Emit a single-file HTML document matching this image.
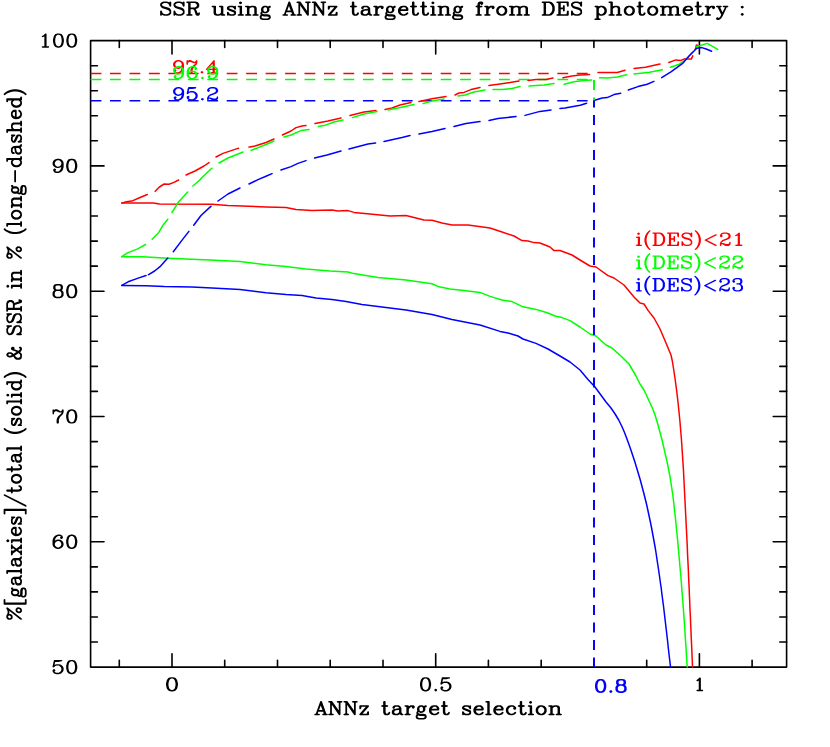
<!DOCTYPE html>
<html><head><meta charset="utf-8"><title>SSR using ANNz targetting</title>
<style>html,body{margin:0;padding:0;background:#fff;}svg{display:block;}</style>
</head><body>
<svg width="830" height="747" viewBox="0 0 830 747">
<rect width="830" height="747" fill="#fff"/>
<g fill="none" stroke="#000" stroke-width="1.6" stroke-linejoin="round" stroke-linecap="round">
<rect x="90.6" y="40.6" width="696" height="626.5"/>
<path d="M119.3 667.1 v-6.8 M119.3 40.6 v6.8 M172 667.1 v-13.4 M172 40.6 v13.4 M224.7 667.1 v-6.8 M224.7 40.6 v6.8 M277.5 667.1 v-6.8 M277.5 40.6 v6.8 M330.2 667.1 v-6.8 M330.2 40.6 v6.8 M383 667.1 v-6.8 M383 40.6 v6.8 M435.7 667.1 v-13.4 M435.7 40.6 v13.4 M488.4 667.1 v-6.8 M488.4 40.6 v6.8 M541.2 667.1 v-6.8 M541.2 40.6 v6.8 M593.9 667.1 v-6.8 M593.9 40.6 v6.8 M646.7 667.1 v-6.8 M646.7 40.6 v6.8 M699.4 667.1 v-13.4 M699.4 40.6 v13.4 M752.1 667.1 v-6.8 M752.1 40.6 v6.8 M90.6 642 h6.8 M786.6 642 h-6.8 M90.6 617 h6.8 M786.6 617 h-6.8 M90.6 591.9 h6.8 M786.6 591.9 h-6.8 M90.6 566.9 h6.8 M786.6 566.9 h-6.8 M90.6 541.8 h13.4 M786.6 541.8 h-13.4 M90.6 516.7 h6.8 M786.6 516.7 h-6.8 M90.6 491.7 h6.8 M786.6 491.7 h-6.8 M90.6 466.6 h6.8 M786.6 466.6 h-6.8 M90.6 441.6 h6.8 M786.6 441.6 h-6.8 M90.6 416.5 h13.4 M786.6 416.5 h-13.4 M90.6 391.4 h6.8 M786.6 391.4 h-6.8 M90.6 366.4 h6.8 M786.6 366.4 h-6.8 M90.6 341.3 h6.8 M786.6 341.3 h-6.8 M90.6 316.3 h6.8 M786.6 316.3 h-6.8 M90.6 291.2 h13.4 M786.6 291.2 h-13.4 M90.6 266.1 h6.8 M786.6 266.1 h-6.8 M90.6 241.1 h6.8 M786.6 241.1 h-6.8 M90.6 216 h6.8 M786.6 216 h-6.8 M90.6 191 h6.8 M786.6 191 h-6.8 M90.6 165.9 h13.4 M786.6 165.9 h-13.4 M90.6 140.8 h6.8 M786.6 140.8 h-6.8 M90.6 115.8 h6.8 M786.6 115.8 h-6.8 M90.6 90.7 h6.8 M786.6 90.7 h-6.8 M90.6 65.7 h6.8 M786.6 65.7 h-6.8"/>
</g>
<path d="M292 -133L274 -127L270 -124L258 -106L251 -74L251 -52L258 -20L270 -2L274 1L292 7L293 6L294 7L306 7L307 6L308 7L326 1L330 -2L342 -20L349 -52L349 -74L342 -106L330 -124L326 -127L308 -133L307 -132L306 -133L294 -133L293 -132ZM295 -119L305 -119L313 -115L319 -109L324 -99L329 -74L329 -52L324 -27L319 -17L313 -11L305 -7L295 -7L287 -11L281 -17L276 -27L271 -52L271 -74L276 -99L281 -109L287 -115ZM172 -133L154 -127L150 -124L138 -106L131 -74L131 -52L138 -20L150 -2L154 1L172 7L173 6L174 7L186 7L187 6L188 7L206 1L210 -2L222 -20L229 -52L229 -74L222 -106L210 -124L206 -127L188 -133L187 -132L186 -133L174 -133L173 -132ZM175 -119L185 -119L193 -115L199 -109L204 -99L209 -74L209 -52L204 -27L199 -17L193 -11L185 -7L175 -7L167 -11L161 -17L156 -27L151 -52L151 -74L156 -99L161 -109L167 -115ZM66 -133L61 -131L43 -113L34 -109L30 -105L29 -102L30 -99L36 -95L52 -103L53 -102L53 -8L33 -6L29 0L30 3L36 7L90 7L93 6L97 0L93 -6L73 -8L73 -126L72 -129Z" transform="translate(38.48 46.98) scale(0.11090 0.10213)" fill="#000"/>
<path d="M172 -133L154 -127L150 -124L138 -106L131 -74L131 -52L138 -20L150 -2L154 1L172 7L173 6L174 7L186 7L187 6L188 7L206 1L210 -2L222 -20L229 -52L229 -74L222 -106L210 -124L206 -127L188 -133L187 -132L186 -133L174 -133L173 -132ZM175 -119L185 -119L193 -115L199 -109L204 -99L209 -74L209 -52L204 -27L199 -17L193 -11L185 -7L175 -7L167 -11L161 -17L156 -27L151 -52L151 -74L156 -99L161 -109L167 -115ZM68 -133L67 -132L66 -133L54 -133L53 -132L52 -133L31 -125L17 -110L11 -92L12 -91L11 -82L17 -64L34 -47L52 -41L53 -42L62 -41L80 -47L87 -53L88 -52L84 -34L79 -23L67 -11L59 -7L43 -7L35 -12L41 -19L43 -24L41 -29L35 -35L30 -37L27 -36L19 -29L17 -24L17 -18L23 -4L28 1L42 7L60 7L61 6L62 7L83 -1L97 -16L103 -28L109 -51L108 -53L109 -54L109 -90L108 -91L109 -92L103 -110L86 -127ZM55 -119L65 -119L73 -115L84 -104L89 -90L89 -84L84 -70L74 -60L60 -55L55 -55L47 -59L36 -70L31 -84L31 -90L36 -104L47 -115Z" transform="translate(51.25 172.28) scale(0.11370 0.10213)" fill="#000"/>
<path d="M172 -133L154 -127L150 -124L138 -106L131 -74L131 -52L138 -20L150 -2L154 1L172 7L173 6L174 7L186 7L187 6L188 7L206 1L210 -2L222 -20L229 -52L229 -74L222 -106L210 -124L206 -127L188 -133L187 -132L186 -133L174 -133L173 -132ZM175 -119L185 -119L193 -115L199 -109L204 -99L209 -74L209 -52L204 -27L199 -17L193 -11L185 -7L175 -7L167 -11L161 -17L156 -27L151 -52L151 -74L156 -99L161 -109L167 -115ZM46 -133L28 -127L23 -122L18 -112L17 -90L23 -76L27 -72L19 -65L12 -52L11 -24L19 -7L28 1L46 7L47 6L48 7L72 7L73 6L74 7L95 -1L101 -7L108 -20L109 -24L108 -52L101 -65L93 -72L97 -76L102 -86L103 -108L97 -122L92 -127L74 -133L73 -132L72 -133L48 -133L47 -132ZM49 -65L71 -65L79 -61L85 -55L89 -47L89 -25L85 -17L79 -11L71 -7L49 -7L41 -11L35 -17L31 -25L31 -47L35 -55L41 -61ZM40 -113L49 -119L71 -119L77 -116L83 -107L83 -91L80 -85L71 -79L49 -79L43 -82L37 -91L37 -107Z" transform="translate(51.25 297.58) scale(0.11370 0.10213)" fill="#000"/>
<path d="M172 -133L154 -127L150 -124L138 -106L131 -74L131 -52L138 -20L150 -2L154 1L172 7L173 6L174 7L186 7L187 6L188 7L206 1L210 -2L222 -20L229 -52L229 -74L222 -106L210 -124L206 -127L188 -133L187 -132L186 -133L174 -133L173 -132ZM175 -119L185 -119L193 -115L199 -109L204 -99L209 -74L209 -52L204 -27L199 -17L193 -11L185 -7L175 -7L167 -11L161 -17L156 -27L151 -52L151 -74L156 -99L161 -109L167 -115ZM102 -133L99 -132L95 -128L91 -119L87 -115L80 -115L56 -130L48 -133L36 -133L31 -131L26 -126L21 -132L18 -133L12 -129L11 -126L11 -90L15 -84L18 -83L24 -87L25 -101L28 -107L37 -113L47 -113L73 -102L78 -101L90 -101L91 -102L92 -101L90 -94L61 -65L53 -50L47 -32L48 -31L47 -30L47 0L51 6L60 7L66 3L67 0L67 -30L72 -45L78 -57L103 -88L109 -106L108 -107L109 -108L109 -126L108 -129Z" transform="translate(51.25 422.88) scale(0.11370 0.10213)" fill="#000"/>
<path d="M172 -133L154 -127L150 -124L138 -106L131 -74L131 -52L138 -20L150 -2L154 1L172 7L173 6L174 7L186 7L187 6L188 7L206 1L210 -2L222 -20L229 -52L229 -74L222 -106L210 -124L206 -127L188 -133L187 -132L186 -133L174 -133L173 -132ZM175 -119L185 -119L193 -115L199 -109L204 -99L209 -74L209 -52L204 -27L199 -17L193 -11L185 -7L175 -7L167 -11L161 -17L156 -27L151 -52L151 -74L156 -99L161 -109L167 -115ZM78 -133L60 -133L59 -132L58 -133L37 -125L23 -110L17 -98L11 -75L12 -73L11 -72L11 -36L12 -35L11 -34L17 -16L34 1L52 7L53 6L54 7L66 7L67 6L68 7L89 -1L103 -16L109 -34L108 -35L109 -44L103 -62L86 -79L68 -85L67 -84L58 -85L40 -79L33 -73L32 -74L36 -92L41 -103L53 -115L61 -119L77 -119L85 -114L79 -107L77 -102L79 -97L85 -91L90 -89L93 -90L101 -97L103 -102L103 -108L97 -122L92 -127ZM60 -71L65 -71L73 -67L84 -56L89 -42L89 -36L84 -22L73 -11L65 -7L55 -7L47 -11L36 -22L31 -36L31 -42L36 -56L46 -66Z" transform="translate(51.25 548.18) scale(0.11370 0.10213)" fill="#000"/>
<path d="M172 -133L154 -127L150 -124L138 -106L131 -74L131 -52L138 -20L150 -2L154 1L172 7L173 6L174 7L186 7L187 6L188 7L206 1L210 -2L222 -20L229 -52L229 -74L222 -106L210 -124L206 -127L188 -133L187 -132L186 -133L174 -133L173 -132ZM175 -119L185 -119L193 -115L199 -109L204 -99L209 -74L209 -52L204 -27L199 -17L193 -11L185 -7L175 -7L167 -11L161 -17L156 -27L151 -52L151 -74L156 -99L161 -109L167 -115ZM27 -132L24 -129L22 -123L11 -68L12 -63L18 -59L23 -61L36 -73L48 -77L65 -77L73 -73L84 -62L89 -48L89 -36L84 -22L73 -11L65 -7L48 -7L34 -12L29 -17L29 -19L35 -25L37 -30L35 -35L29 -41L24 -43L19 -41L13 -35L11 -30L12 -20L19 -7L25 -1L46 7L47 6L48 7L66 7L67 6L68 7L86 1L103 -16L109 -34L108 -35L109 -36L109 -48L108 -49L109 -50L103 -68L86 -85L68 -91L67 -90L66 -91L48 -91L47 -90L46 -91L30 -85L29 -88L35 -113L62 -113L91 -119L96 -123L97 -126L96 -129L90 -133L30 -133Z" transform="translate(51.25 673.48) scale(0.11370 0.10213)" fill="#000"/>
<path d="M52 -133L34 -127L30 -124L18 -106L11 -74L11 -52L18 -20L30 -2L34 1L52 7L53 6L54 7L66 7L67 6L68 7L86 1L90 -2L102 -20L109 -52L109 -74L102 -106L90 -124L86 -127L68 -133L67 -132L66 -133L54 -133L53 -132ZM55 -119L65 -119L73 -115L79 -109L84 -99L89 -74L89 -52L84 -27L79 -17L73 -11L65 -7L55 -7L47 -11L41 -17L36 -27L31 -52L31 -74L36 -99L41 -109L47 -115Z" transform="translate(164.72 690.69) scale(0.12121 0.10142)" fill="#000"/>
<path d="M150 -19L145 -17L139 -11L137 -6L139 -1L145 5L150 7L155 5L161 -1L163 -6L161 -11L155 -17ZM207 -132L204 -129L202 -123L191 -68L192 -63L198 -59L203 -61L216 -73L228 -77L245 -77L253 -73L264 -62L269 -48L269 -36L264 -22L253 -11L245 -7L228 -7L214 -12L209 -17L209 -19L215 -25L217 -30L215 -35L209 -41L204 -43L199 -41L193 -35L191 -30L192 -20L199 -7L205 -1L226 7L227 6L228 7L246 7L247 6L248 7L266 1L283 -16L289 -34L288 -35L289 -36L289 -48L288 -49L289 -50L283 -68L266 -85L248 -91L247 -90L246 -91L228 -91L227 -90L226 -91L210 -85L209 -88L215 -113L242 -113L271 -119L276 -123L277 -126L276 -129L270 -133L210 -133ZM52 -133L34 -127L30 -124L18 -106L11 -74L11 -52L18 -20L30 -2L34 1L52 7L53 6L54 7L66 7L67 6L68 7L86 1L90 -2L102 -20L109 -52L109 -74L102 -106L90 -124L86 -127L68 -133L67 -132L66 -133L54 -133L53 -132ZM55 -119L65 -119L73 -115L79 -109L84 -99L89 -74L89 -52L84 -27L79 -17L73 -11L65 -7L55 -7L47 -11L41 -17L36 -27L31 -52L31 -74L36 -99L41 -109L47 -115Z" transform="translate(418.75 690.69) scale(0.11326 0.10142)" fill="#000"/>
<path d="M66 -134L60 -132L42 -114L33 -110L30 -107L28 -102L30 -97L36 -94L41 -95L50 -100L52 -99L52 -9L51 -8L36 -8L30 -5L28 0L31 6L36 8L90 8L95 6L98 0L96 -5L93 -7L74 -9L74 -126L72 -131Z" transform="translate(693.68 690.52) scale(0.09718 0.09790)" fill="#000"/>
<path d="M150 -20L144 -18L138 -12L136 -6L138 0L144 6L150 8L156 6L162 0L164 -6L162 -12L156 -18ZM225 -134L207 -128L202 -123L197 -113L196 -90L197 -85L204 -72L198 -66L191 -53L190 -48L191 -19L198 -6L207 2L225 8L226 7L228 8L252 8L254 7L255 8L276 0L282 -6L289 -19L290 -24L289 -53L282 -66L276 -72L283 -85L284 -90L283 -113L278 -123L273 -128L255 -134L254 -133L252 -134L228 -134L226 -133ZM230 -64L250 -64L258 -60L264 -54L268 -46L268 -26L264 -18L258 -12L250 -8L230 -8L222 -12L216 -18L212 -26L212 -46L216 -54L222 -60ZM221 -112L230 -118L250 -118L256 -115L262 -106L262 -92L259 -86L250 -80L230 -80L224 -83L218 -92L218 -106ZM51 -134L33 -128L29 -124L16 -104L10 -75L11 -73L10 -72L10 -54L11 -53L10 -51L16 -22L29 -2L33 2L51 8L52 7L54 8L68 7L69 8L87 2L91 -2L104 -22L110 -51L109 -53L110 -54L110 -72L109 -73L110 -75L104 -104L91 -124L87 -128L69 -134L68 -133L66 -134L52 -133ZM56 -118L64 -118L72 -114L78 -108L83 -98L88 -73L88 -53L83 -28L78 -18L72 -12L64 -8L56 -8L48 -12L42 -18L37 -28L32 -53L32 -73L37 -98L42 -108L48 -114Z" transform="translate(593.87 692.12) scale(0.11317 0.09790)" fill="#0000ff"/>
<path d="M5238 -20L5232 -18L5226 -12L5224 -6L5226 0L5232 6L5238 8L5244 6L5250 0L5252 -6L5250 -12L5244 -18ZM5238 -92L5232 -90L5226 -84L5224 -78L5226 -72L5232 -66L5238 -64L5244 -66L5250 -72L5252 -78L5250 -84L5244 -90ZM5111 -90L5106 -92L5070 -92L5064 -89L5062 -84L5065 -78L5070 -76L5081 -76L5082 -75L5061 -28L5057 -34L5040 -75L5046 -76L5052 -79L5054 -84L5052 -89L5046 -92L5010 -92L5004 -89L5002 -84L5004 -79L5010 -76L5016 -76L5018 -74L5049 -2L5040 18L5028 30L5022 24L5016 22L5010 24L5004 30L5002 36L5004 42L5010 48L5016 50L5027 49L5040 42L5052 30L5065 5L5098 -74L5100 -76L5109 -77L5113 -81L5114 -84ZM4903 -90L4900 -84L4902 -79L4908 -76L4918 -75L4918 -9L4908 -8L4903 -6L4900 0L4902 5L4908 8L4950 8L4955 6L4958 0L4956 -5L4950 -8L4940 -9L4940 -47L4944 -59L4956 -72L4964 -76L4967 -75L4966 -72L4968 -66L4974 -60L4980 -58L4986 -60L4992 -66L4994 -72L4994 -78L4992 -84L4986 -90L4980 -92L4957 -91L4947 -86L4941 -81L4938 -89L4932 -92L4908 -92ZM4743 -92L4725 -86L4710 -72L4702 -51L4703 -50L4702 -48L4703 -34L4702 -33L4708 -15L4722 0L4743 8L4744 7L4746 8L4760 7L4761 8L4782 0L4794 -12L4796 -18L4794 -23L4788 -26L4782 -24L4769 -12L4757 -8L4748 -8L4740 -12L4729 -23L4724 -39L4725 -40L4788 -40L4793 -42L4795 -45L4796 -60L4795 -65L4790 -75L4779 -86L4769 -91L4764 -92L4746 -92L4745 -91ZM4728 -59L4740 -72L4748 -76L4762 -76L4768 -73L4774 -64L4773 -56L4729 -56ZM4498 -84L4501 -78L4506 -76L4516 -75L4516 -9L4506 -8L4500 -5L4498 0L4500 5L4506 8L4548 8L4554 5L4556 0L4553 -6L4548 -8L4538 -9L4538 -62L4547 -71L4561 -76L4570 -76L4576 -73L4582 -64L4582 -9L4572 -8L4567 -6L4564 0L4567 6L4572 8L4614 8L4620 5L4622 0L4619 -6L4614 -8L4604 -9L4604 -62L4613 -71L4627 -76L4636 -76L4642 -73L4648 -64L4648 -9L4638 -8L4633 -6L4630 0L4632 5L4638 8L4680 8L4685 6L4688 0L4685 -6L4680 -8L4670 -9L4670 -66L4669 -71L4664 -81L4659 -86L4641 -92L4640 -91L4638 -92L4624 -91L4623 -92L4605 -86L4599 -81L4593 -86L4575 -92L4574 -91L4572 -92L4558 -91L4557 -92L4539 -86L4538 -84L4536 -89L4530 -92L4506 -92L4501 -90ZM4425 -92L4407 -86L4392 -72L4384 -51L4385 -50L4384 -48L4385 -34L4384 -33L4390 -15L4404 0L4425 8L4426 7L4428 8L4442 7L4443 8L4461 2L4476 -12L4484 -33L4483 -34L4484 -36L4483 -50L4484 -51L4478 -69L4464 -84L4443 -92L4442 -91L4440 -92L4426 -91ZM4430 -76L4438 -76L4446 -72L4457 -61L4462 -47L4462 -37L4457 -23L4446 -12L4438 -8L4430 -8L4422 -12L4411 -23L4406 -37L4406 -47L4411 -61L4422 -72ZM4215 -92L4197 -86L4182 -72L4174 -51L4175 -50L4174 -48L4175 -34L4174 -33L4180 -15L4194 0L4215 8L4216 7L4218 8L4232 7L4233 8L4251 2L4266 -12L4274 -33L4273 -34L4274 -36L4273 -50L4274 -51L4268 -69L4254 -84L4233 -92L4232 -91L4230 -92L4216 -91ZM4220 -76L4228 -76L4236 -72L4247 -61L4252 -47L4252 -37L4247 -23L4236 -12L4228 -8L4220 -8L4212 -12L4201 -23L4196 -37L4196 -47L4201 -61L4212 -72ZM3918 -92L3913 -90L3910 -84L3913 -78L3918 -76L3928 -75L3928 33L3915 35L3912 37L3910 42L3912 47L3918 50L3960 50L3965 48L3968 42L3965 36L3960 34L3950 33L3950 3L3952 2L3961 7L3966 8L3978 8L3979 7L3981 8L4002 0L4016 -15L4022 -33L4021 -34L4022 -36L4021 -50L4022 -51L4016 -69L3999 -86L3981 -92L3980 -91L3978 -92L3961 -91L3950 -85L3947 -90L3942 -92ZM3968 -76L3976 -76L3984 -72L3995 -61L4000 -47L4000 -37L3995 -23L3984 -12L3976 -8L3968 -8L3960 -12L3950 -22L3950 -62L3960 -72ZM3142 -84L3145 -78L3150 -76L3160 -75L3160 -9L3150 -8L3144 -5L3142 0L3144 5L3150 8L3192 8L3198 5L3200 0L3197 -6L3192 -8L3182 -9L3182 -62L3191 -71L3205 -76L3214 -76L3220 -73L3226 -64L3226 -9L3216 -8L3211 -6L3208 0L3211 6L3216 8L3258 8L3264 5L3266 0L3263 -6L3258 -8L3248 -9L3248 -62L3257 -71L3271 -76L3280 -76L3286 -73L3292 -64L3292 -9L3282 -8L3277 -6L3274 0L3276 5L3282 8L3324 8L3329 6L3332 0L3329 -6L3324 -8L3314 -9L3314 -66L3313 -71L3308 -81L3303 -86L3285 -92L3284 -91L3282 -92L3268 -91L3267 -92L3249 -86L3243 -81L3237 -86L3219 -92L3218 -91L3216 -92L3202 -91L3201 -92L3183 -86L3182 -84L3180 -89L3174 -92L3150 -92L3145 -90ZM3069 -92L3051 -86L3036 -72L3028 -51L3029 -50L3028 -48L3029 -34L3028 -33L3034 -15L3048 0L3069 8L3070 7L3072 8L3086 7L3087 8L3105 2L3120 -12L3128 -33L3127 -34L3128 -36L3127 -50L3128 -51L3122 -69L3108 -84L3087 -92L3086 -91L3084 -92L3070 -91ZM3074 -76L3082 -76L3090 -72L3101 -61L3106 -47L3106 -37L3101 -23L3090 -12L3082 -8L3074 -8L3066 -12L3055 -23L3050 -37L3050 -47L3055 -61L3066 -72ZM2923 -90L2920 -84L2922 -79L2928 -76L2938 -75L2938 -9L2928 -8L2923 -6L2920 0L2922 5L2928 8L2970 8L2975 6L2978 0L2976 -5L2970 -8L2960 -9L2960 -47L2964 -59L2976 -72L2984 -76L2987 -75L2986 -72L2988 -66L2994 -60L3000 -58L3006 -60L3012 -66L3014 -72L3014 -78L3012 -84L3006 -90L3000 -92L2977 -91L2967 -86L2961 -81L2958 -89L2952 -92L2928 -92ZM2671 -91L2658 -84L2652 -78L2645 -65L2644 -48L2645 -43L2648 -38L2639 -23L2638 -12L2642 -1L2638 3L2633 13L2632 18L2633 29L2638 39L2643 44L2661 50L2662 49L2664 50L2700 50L2702 49L2703 50L2721 44L2726 39L2731 29L2732 18L2731 13L2726 3L2721 -2L2703 -8L2702 -7L2700 -8L2671 -8L2659 -12L2654 -16L2659 -24L2671 -17L2676 -16L2693 -17L2706 -24L2712 -30L2719 -43L2720 -60L2717 -69L2729 -72L2732 -78L2732 -84L2730 -89L2724 -92L2719 -91L2707 -84L2693 -91L2688 -92ZM2648 20L2653 12L2660 11L2667 14L2668 13L2670 14L2699 14L2711 18L2716 22L2711 30L2699 34L2665 34L2653 30ZM2678 -76L2686 -76L2692 -73L2698 -64L2698 -44L2695 -38L2686 -32L2678 -32L2672 -35L2666 -44L2666 -64L2669 -70ZM2502 -89L2500 -84L2503 -78L2508 -76L2518 -75L2518 -9L2508 -8L2503 -6L2500 0L2503 6L2508 8L2550 8L2556 5L2558 0L2555 -6L2550 -8L2540 -9L2540 -62L2549 -71L2563 -76L2572 -76L2578 -73L2584 -64L2584 -9L2574 -8L2569 -6L2566 0L2568 5L2574 8L2616 8L2622 5L2624 0L2621 -6L2616 -8L2606 -9L2606 -66L2605 -71L2600 -81L2595 -86L2577 -92L2576 -91L2574 -92L2560 -91L2559 -92L2541 -86L2540 -84L2538 -89L2532 -92L2508 -92ZM2437 -90L2434 -84L2436 -79L2442 -76L2452 -75L2452 -9L2442 -8L2437 -6L2434 0L2436 5L2442 8L2484 8L2489 6L2492 0L2490 -5L2484 -8L2474 -9L2474 -84L2472 -89L2466 -92L2442 -92ZM2187 -92L2169 -86L2154 -72L2146 -51L2147 -50L2146 -48L2147 -34L2146 -33L2152 -15L2166 0L2187 8L2188 7L2190 8L2204 7L2205 8L2226 0L2238 -12L2240 -18L2238 -23L2232 -26L2226 -24L2213 -12L2201 -8L2192 -8L2184 -12L2173 -23L2168 -39L2169 -40L2232 -40L2237 -42L2239 -45L2240 -60L2239 -65L2234 -75L2223 -86L2213 -91L2208 -92L2190 -92L2189 -91ZM2172 -59L2184 -72L2192 -76L2206 -76L2212 -73L2218 -64L2217 -56L2173 -56ZM2065 -91L2052 -84L2046 -78L2039 -65L2038 -48L2039 -43L2042 -38L2033 -23L2032 -12L2036 -1L2032 3L2027 13L2026 18L2027 29L2032 39L2037 44L2055 50L2056 49L2058 50L2094 50L2096 49L2097 50L2115 44L2120 39L2125 29L2126 18L2125 13L2120 3L2115 -2L2097 -8L2096 -7L2094 -8L2065 -8L2053 -12L2048 -16L2053 -24L2065 -17L2070 -16L2087 -17L2100 -24L2106 -30L2113 -43L2114 -60L2111 -69L2123 -72L2126 -78L2126 -84L2124 -89L2118 -92L2113 -91L2101 -84L2087 -91L2082 -92ZM2042 20L2047 12L2054 11L2061 14L2062 13L2064 14L2093 14L2105 18L2110 22L2105 30L2093 34L2059 34L2047 30ZM2072 -76L2080 -76L2086 -73L2092 -64L2092 -44L2089 -38L2080 -32L2072 -32L2066 -35L2060 -44L2060 -64L2063 -70ZM1927 -90L1924 -84L1926 -79L1932 -76L1942 -75L1942 -9L1932 -8L1927 -6L1924 0L1926 5L1932 8L1974 8L1979 6L1982 0L1980 -5L1974 -8L1964 -9L1964 -47L1968 -59L1980 -72L1988 -76L1991 -75L1990 -72L1992 -66L1998 -60L2004 -58L2010 -60L2016 -66L2018 -72L2018 -78L2016 -84L2010 -90L2004 -92L1981 -91L1971 -86L1965 -81L1962 -89L1956 -92L1932 -92ZM1818 -78L1816 -72L1816 -66L1818 -61L1824 -58L1830 -58L1835 -60L1838 -66L1838 -72L1844 -76L1864 -76L1872 -72L1876 -68L1876 -64L1873 -61L1845 -57L1840 -55L1839 -56L1821 -50L1816 -45L1811 -35L1810 -18L1811 -13L1816 -3L1821 2L1839 8L1840 7L1860 8L1865 7L1882 -3L1887 2L1897 7L1908 8L1914 5L1916 0L1914 -5L1906 -8L1902 -12L1898 -20L1897 -65L1890 -78L1884 -84L1871 -91L1866 -92L1842 -92L1837 -91L1827 -86ZM1876 -44L1876 -22L1866 -12L1858 -8L1844 -8L1835 -14L1832 -20L1832 -28L1838 -37L1846 -41L1870 -45ZM1519 -90L1516 -84L1516 -60L1518 -55L1524 -52L1529 -54L1532 -58L1537 -76L1572 -76L1573 -75L1518 -6L1516 0L1518 5L1524 8L1596 8L1601 6L1604 0L1604 -24L1602 -29L1596 -32L1591 -30L1588 -26L1583 -8L1548 -8L1547 -9L1602 -78L1604 -84L1602 -89L1596 -92L1524 -92ZM943 -91L930 -84L924 -78L917 -65L916 -48L917 -43L920 -38L911 -23L910 -12L914 -1L910 3L905 13L904 18L905 29L910 39L915 44L933 50L934 49L936 50L972 50L974 49L975 50L993 44L998 39L1003 29L1004 18L1003 13L998 3L993 -2L975 -8L974 -7L972 -8L943 -8L931 -12L926 -16L931 -24L943 -17L948 -16L965 -17L978 -24L984 -30L991 -43L992 -60L989 -69L1001 -72L1004 -78L1004 -84L1002 -89L996 -92L991 -91L979 -84L965 -91L960 -92ZM920 20L925 12L932 11L939 14L940 13L942 14L971 14L983 18L988 22L983 30L971 34L937 34L925 30ZM950 -76L958 -76L964 -73L970 -64L970 -44L967 -38L958 -32L950 -32L944 -35L938 -44L938 -64L941 -70ZM774 -89L772 -84L775 -78L780 -76L790 -75L790 -9L780 -8L775 -6L772 0L775 6L780 8L822 8L828 5L830 0L827 -6L822 -8L812 -9L812 -62L821 -71L835 -76L844 -76L850 -73L856 -64L856 -9L846 -8L841 -6L838 0L840 5L846 8L888 8L894 5L896 0L893 -6L888 -8L878 -9L878 -66L877 -71L872 -81L867 -86L849 -92L848 -91L846 -92L832 -91L831 -92L813 -86L812 -84L810 -89L804 -92L780 -92ZM709 -90L706 -84L708 -79L714 -76L724 -75L724 -9L714 -8L709 -6L706 0L708 5L714 8L756 8L761 6L764 0L762 -5L756 -8L746 -9L746 -84L744 -89L738 -92L714 -92ZM631 -91L618 -84L612 -78L610 -72L610 -60L612 -54L621 -46L672 -24L676 -20L676 -16L672 -12L664 -8L644 -8L636 -12L630 -18L626 -27L623 -30L618 -32L613 -30L610 -24L611 3L613 6L618 8L623 6L627 2L637 7L642 8L671 7L684 0L690 -6L692 -12L692 -30L690 -36L681 -44L644 -59L630 -66L627 -69L630 -72L638 -76L658 -76L666 -72L672 -66L676 -57L679 -54L684 -52L689 -54L692 -60L691 -87L689 -90L684 -92L679 -90L675 -86L665 -91L660 -92ZM474 -89L472 -84L475 -78L480 -76L490 -75L490 -18L491 -13L496 -3L501 2L519 8L520 7L522 8L536 7L537 8L555 2L556 0L558 5L564 8L588 8L594 5L596 0L593 -6L588 -8L578 -9L578 -84L575 -90L570 -92L546 -92L540 -89L538 -84L541 -78L546 -76L556 -75L556 -22L547 -13L533 -8L524 -8L518 -11L512 -20L512 -84L510 -89L504 -92L480 -92ZM4836 -134L4831 -132L4828 -126L4828 -93L4815 -91L4812 -89L4810 -84L4813 -78L4818 -76L4828 -75L4828 -24L4829 -23L4828 -21L4834 -3L4839 2L4849 7L4854 8L4871 7L4881 2L4886 -3L4891 -13L4892 -18L4890 -23L4884 -26L4879 -24L4876 -21L4873 -14L4864 -8L4858 -8L4854 -13L4850 -25L4850 -75L4869 -77L4872 -79L4874 -84L4872 -89L4869 -91L4850 -93L4850 -126L4849 -129L4845 -133ZM4314 -134L4309 -132L4306 -126L4306 -93L4293 -91L4290 -89L4288 -84L4291 -78L4296 -76L4306 -75L4306 -24L4307 -23L4306 -21L4312 -3L4317 2L4327 7L4332 8L4349 7L4359 2L4364 -3L4369 -13L4370 -18L4368 -23L4362 -26L4357 -24L4354 -21L4351 -14L4342 -8L4336 -8L4332 -13L4328 -25L4328 -75L4347 -77L4350 -79L4352 -84L4350 -89L4347 -91L4328 -93L4328 -126L4327 -129L4323 -133ZM4039 -132L4036 -126L4038 -121L4044 -118L4054 -117L4054 -9L4044 -8L4039 -6L4036 0L4038 5L4044 8L4086 8L4092 5L4094 0L4091 -6L4086 -8L4076 -9L4076 -62L4087 -72L4099 -76L4108 -76L4114 -73L4120 -64L4120 -9L4110 -8L4105 -6L4102 0L4104 5L4110 8L4152 8L4157 6L4160 0L4158 -5L4152 -8L4142 -9L4142 -66L4141 -71L4136 -81L4131 -86L4113 -92L4112 -91L4110 -92L4096 -91L4095 -92L4077 -86L4076 -87L4076 -126L4074 -131L4068 -134L4044 -134ZM3735 -134L3717 -128L3702 -114L3700 -108L3701 -91L3708 -78L3717 -70L3729 -64L3764 -53L3774 -48L3784 -38L3784 -22L3773 -12L3761 -8L3745 -8L3731 -13L3721 -23L3716 -39L3713 -42L3708 -44L3703 -42L3700 -36L3700 0L3702 5L3708 8L3713 6L3716 3L3718 -2L3722 0L3723 2L3741 8L3742 7L3744 8L3764 7L3765 8L3783 2L3798 -12L3800 -18L3799 -47L3792 -60L3786 -66L3771 -74L3736 -85L3726 -90L3716 -100L3716 -104L3727 -114L3739 -118L3755 -118L3769 -113L3779 -103L3784 -87L3787 -84L3792 -82L3797 -84L3800 -90L3800 -126L3798 -131L3792 -134L3787 -132L3784 -129L3782 -124L3778 -126L3777 -128L3759 -134L3758 -133L3756 -134L3736 -133ZM3571 -132L3568 -126L3570 -121L3576 -118L3586 -117L3586 -9L3576 -8L3571 -6L3568 0L3570 5L3576 8L3672 8L3677 6L3680 0L3680 -36L3678 -41L3672 -44L3667 -42L3664 -37L3660 -10L3658 -8L3609 -8L3608 -9L3608 -57L3609 -58L3627 -58L3628 -57L3628 -42L3630 -37L3636 -34L3641 -36L3644 -42L3644 -90L3641 -96L3636 -98L3630 -95L3628 -90L3628 -75L3627 -74L3609 -74L3608 -75L3608 -117L3609 -118L3658 -118L3660 -116L3664 -89L3667 -84L3672 -82L3677 -84L3680 -90L3680 -126L3678 -131L3672 -134L3576 -134ZM3439 -132L3436 -126L3438 -121L3444 -118L3454 -117L3454 -9L3444 -8L3439 -6L3436 0L3438 5L3444 8L3504 8L3505 7L3507 8L3525 2L3542 -15L3548 -27L3554 -45L3553 -46L3554 -48L3554 -78L3553 -80L3554 -81L3548 -99L3542 -111L3525 -128L3507 -134L3506 -133L3504 -134L3444 -134ZM3477 -118L3502 -118L3510 -114L3522 -102L3527 -92L3532 -77L3532 -49L3527 -34L3522 -24L3510 -12L3502 -8L3477 -8L3476 -9L3476 -117ZM2904 -132L2898 -134L2886 -134L2881 -133L2871 -128L2866 -123L2861 -113L2860 -93L2847 -91L2843 -87L2842 -84L2845 -78L2850 -76L2860 -75L2860 -9L2850 -8L2844 -5L2842 0L2844 5L2850 8L2892 8L2897 6L2900 0L2897 -6L2892 -8L2882 -9L2882 -75L2901 -77L2904 -79L2906 -84L2904 -89L2901 -91L2883 -92L2882 -93L2882 -106L2885 -111L2886 -108L2892 -102L2898 -100L2904 -102L2910 -108L2912 -114L2912 -120L2910 -126ZM2460 -134L2454 -132L2448 -126L2446 -120L2448 -114L2454 -108L2460 -106L2466 -108L2472 -114L2474 -120L2472 -126L2466 -132ZM2370 -134L2365 -132L2362 -126L2362 -93L2349 -91L2346 -89L2344 -84L2347 -78L2352 -76L2362 -75L2362 -24L2363 -23L2362 -21L2368 -3L2373 2L2383 7L2388 8L2405 7L2415 2L2420 -3L2425 -13L2426 -18L2424 -23L2418 -26L2413 -24L2410 -21L2407 -14L2398 -8L2392 -8L2388 -13L2384 -25L2384 -75L2403 -77L2406 -79L2408 -84L2406 -89L2403 -91L2384 -93L2384 -126L2383 -129L2379 -133ZM2280 -134L2275 -132L2272 -126L2272 -93L2259 -91L2256 -89L2254 -84L2257 -78L2262 -76L2272 -75L2272 -24L2273 -23L2272 -21L2278 -3L2283 2L2293 7L2298 8L2315 7L2325 2L2330 -3L2335 -13L2336 -18L2334 -23L2328 -26L2323 -24L2320 -21L2317 -14L2308 -8L2302 -8L2298 -13L2294 -25L2294 -75L2313 -77L2316 -79L2318 -84L2316 -89L2313 -91L2294 -93L2294 -126L2293 -129L2289 -133ZM1740 -134L1735 -132L1732 -126L1732 -93L1719 -91L1716 -89L1714 -84L1717 -78L1722 -76L1732 -75L1732 -24L1733 -23L1732 -21L1738 -3L1743 2L1753 7L1758 8L1775 7L1785 2L1790 -3L1795 -13L1796 -18L1794 -23L1788 -26L1783 -24L1780 -21L1777 -14L1768 -8L1762 -8L1758 -13L1754 -25L1754 -75L1773 -77L1776 -79L1778 -84L1776 -89L1773 -91L1754 -93L1754 -126L1753 -129L1749 -133ZM1375 -132L1372 -126L1374 -121L1380 -118L1390 -117L1390 -9L1380 -8L1375 -6L1372 0L1374 5L1380 8L1416 8L1421 6L1424 0L1421 -6L1416 -8L1406 -9L1406 -93L1407 -94L1469 4L1476 8L1481 6L1484 0L1484 -117L1494 -118L1499 -120L1502 -126L1500 -131L1494 -134L1458 -134L1453 -132L1450 -126L1453 -120L1458 -118L1468 -117L1468 -42L1467 -41L1409 -132L1404 -134L1380 -134ZM1237 -132L1234 -126L1236 -121L1242 -118L1252 -117L1252 -9L1242 -8L1237 -6L1234 0L1236 5L1242 8L1278 8L1283 6L1286 0L1283 -6L1278 -8L1268 -9L1268 -93L1269 -94L1331 4L1338 8L1343 6L1346 0L1346 -117L1356 -118L1361 -120L1364 -126L1362 -131L1356 -134L1320 -134L1315 -132L1312 -126L1315 -120L1320 -118L1330 -117L1330 -42L1329 -41L1271 -132L1266 -134L1242 -134ZM1173 -133L1170 -134L1167 -133L1162 -129L1123 -10L1121 -8L1113 -7L1109 -3L1108 0L1109 3L1113 7L1116 8L1152 8L1158 5L1160 0L1157 -6L1152 -8L1141 -8L1140 -9L1145 -26L1147 -28L1187 -28L1189 -26L1194 -9L1188 -8L1182 -5L1180 0L1182 5L1188 8L1224 8L1229 6L1232 0L1229 -6L1224 -8L1219 -8L1217 -10L1178 -129ZM1167 -90L1182 -47L1181 -44L1153 -44L1152 -45ZM732 -134L726 -132L720 -126L718 -120L720 -114L726 -108L732 -106L738 -108L744 -114L746 -120L744 -126L738 -132ZM247 -132L244 -126L246 -121L252 -118L262 -117L262 -9L252 -8L247 -6L244 0L246 5L252 8L294 8L300 5L302 0L299 -6L294 -8L284 -9L284 -57L285 -58L304 -58L313 -52L317 -44L330 0L336 6L342 8L354 8L359 6L362 3L367 -7L368 -12L367 -21L363 -25L360 -26L354 -23L351 -15L345 -24L333 -54L330 -58L331 -60L348 -66L354 -72L361 -85L362 -102L361 -107L354 -120L345 -128L327 -134L326 -133L324 -134L252 -134ZM284 -117L285 -118L322 -118L330 -114L336 -108L340 -100L340 -92L336 -84L330 -78L322 -74L285 -74L284 -75ZM165 -134L147 -128L132 -114L130 -108L131 -91L138 -78L147 -70L159 -64L194 -53L204 -48L214 -38L214 -22L203 -12L191 -8L175 -8L161 -13L151 -23L146 -39L143 -42L138 -44L133 -42L130 -36L130 0L132 5L138 8L143 6L146 3L148 -2L152 0L153 2L171 8L172 7L174 8L194 7L195 8L213 2L228 -12L230 -18L229 -47L222 -60L216 -66L201 -74L166 -85L156 -90L146 -100L146 -104L157 -114L169 -118L185 -118L199 -113L209 -103L214 -87L217 -84L222 -82L227 -84L230 -90L230 -126L228 -131L222 -134L217 -132L214 -129L212 -124L208 -126L207 -128L189 -134L188 -133L186 -134L166 -133ZM45 -134L27 -128L12 -114L10 -108L11 -91L18 -78L27 -70L39 -64L74 -53L84 -48L94 -38L94 -22L83 -12L71 -8L55 -8L41 -13L31 -23L26 -39L23 -42L18 -44L13 -42L10 -36L10 0L12 5L18 8L23 6L26 3L28 -2L32 0L33 2L51 8L52 7L54 8L74 7L75 8L93 2L108 -12L110 -18L109 -47L102 -60L96 -66L81 -74L46 -85L36 -90L26 -100L26 -104L37 -114L49 -118L65 -118L79 -113L89 -103L94 -87L97 -84L102 -82L107 -84L110 -90L110 -126L108 -131L102 -134L97 -132L94 -129L92 -124L88 -126L87 -128L69 -134L68 -133L66 -134L46 -133Z" transform="translate(158.99 14.99) scale(0.11135 0.10105)" fill="#000"/>
<path d="M2118 -89L2116 -84L2119 -78L2124 -76L2134 -75L2134 -9L2124 -8L2119 -6L2116 0L2119 6L2124 8L2166 8L2172 5L2174 0L2171 -6L2166 -8L2156 -9L2156 -62L2165 -71L2179 -76L2188 -76L2194 -73L2200 -64L2200 -9L2190 -8L2185 -6L2182 0L2184 5L2190 8L2232 8L2238 5L2240 0L2237 -6L2232 -8L2222 -9L2222 -66L2221 -71L2216 -81L2211 -86L2193 -92L2192 -91L2190 -92L2176 -91L2175 -92L2157 -86L2156 -84L2154 -89L2148 -92L2124 -92ZM2043 -92L2025 -86L2010 -72L2002 -51L2003 -50L2002 -48L2003 -34L2002 -33L2008 -15L2022 0L2043 8L2044 7L2046 8L2060 7L2061 8L2079 2L2094 -12L2102 -33L2101 -34L2102 -36L2101 -50L2102 -51L2096 -69L2082 -84L2061 -92L2060 -91L2058 -92L2044 -91ZM2048 -76L2056 -76L2064 -72L2075 -61L2080 -47L2080 -37L2075 -23L2064 -12L2056 -8L2048 -8L2040 -12L2029 -23L2024 -37L2024 -47L2029 -61L2040 -72ZM1933 -90L1930 -84L1932 -79L1938 -76L1948 -75L1948 -9L1938 -8L1933 -6L1930 0L1932 5L1938 8L1980 8L1985 6L1988 0L1986 -5L1980 -8L1970 -9L1970 -84L1968 -89L1962 -92L1938 -92ZM1773 -92L1755 -86L1740 -72L1732 -51L1733 -50L1732 -48L1733 -34L1732 -33L1738 -15L1752 0L1773 8L1774 7L1776 8L1790 7L1791 8L1812 0L1824 -12L1826 -18L1823 -24L1818 -26L1812 -24L1801 -13L1787 -8L1778 -8L1770 -12L1759 -23L1754 -37L1754 -47L1758 -59L1770 -72L1778 -76L1792 -76L1800 -72L1803 -69L1800 -66L1798 -60L1800 -54L1806 -48L1812 -46L1818 -48L1824 -54L1826 -60L1826 -66L1824 -72L1812 -84L1799 -91L1794 -92L1774 -91ZM1659 -92L1641 -86L1626 -72L1618 -51L1619 -50L1618 -48L1619 -34L1618 -33L1624 -15L1638 0L1659 8L1660 7L1662 8L1676 7L1677 8L1698 0L1710 -12L1712 -18L1710 -23L1704 -26L1698 -24L1685 -12L1673 -8L1664 -8L1656 -12L1645 -23L1640 -39L1641 -40L1704 -40L1709 -42L1711 -45L1712 -60L1711 -65L1706 -75L1695 -86L1685 -91L1680 -92L1662 -92L1661 -91ZM1644 -59L1656 -72L1664 -76L1678 -76L1684 -73L1690 -64L1689 -56L1645 -56ZM1479 -92L1461 -86L1446 -72L1438 -51L1439 -50L1438 -48L1439 -34L1438 -33L1444 -15L1458 0L1479 8L1480 7L1482 8L1496 7L1497 8L1518 0L1530 -12L1532 -18L1530 -23L1524 -26L1518 -24L1505 -12L1493 -8L1484 -8L1476 -12L1465 -23L1460 -39L1461 -40L1524 -40L1529 -42L1531 -45L1532 -60L1531 -65L1526 -75L1515 -86L1505 -91L1500 -92L1482 -92L1481 -91ZM1464 -59L1476 -72L1484 -76L1498 -76L1504 -73L1510 -64L1509 -56L1465 -56ZM1357 -91L1344 -84L1338 -78L1336 -72L1336 -60L1338 -54L1347 -46L1398 -24L1402 -20L1402 -16L1398 -12L1390 -8L1370 -8L1362 -12L1356 -18L1352 -27L1349 -30L1344 -32L1339 -30L1336 -24L1337 3L1339 6L1344 8L1349 6L1353 2L1363 7L1368 8L1397 7L1410 0L1416 -6L1418 -12L1418 -30L1416 -36L1407 -44L1370 -59L1356 -66L1353 -69L1356 -72L1364 -76L1384 -76L1392 -72L1398 -66L1402 -57L1405 -54L1410 -52L1415 -54L1418 -60L1417 -87L1415 -90L1410 -92L1405 -90L1401 -86L1391 -91L1386 -92ZM1077 -92L1059 -86L1044 -72L1036 -51L1037 -50L1036 -48L1037 -34L1036 -33L1042 -15L1056 0L1077 8L1078 7L1080 8L1094 7L1095 8L1116 0L1128 -12L1130 -18L1128 -23L1122 -26L1116 -24L1103 -12L1091 -8L1082 -8L1074 -12L1063 -23L1058 -39L1059 -40L1122 -40L1127 -42L1129 -45L1130 -60L1129 -65L1124 -75L1113 -86L1103 -91L1098 -92L1080 -92L1079 -91ZM1062 -59L1074 -72L1082 -76L1096 -76L1102 -73L1108 -64L1107 -56L1063 -56ZM955 -91L942 -84L936 -78L929 -65L928 -48L929 -43L932 -38L923 -23L922 -12L926 -1L922 3L917 13L916 18L917 29L922 39L927 44L945 50L946 49L948 50L984 50L986 49L987 50L1005 44L1010 39L1015 29L1016 18L1015 13L1010 3L1005 -2L987 -8L986 -7L984 -8L955 -8L943 -12L938 -16L943 -24L955 -17L960 -16L977 -17L990 -24L996 -30L1003 -43L1004 -60L1001 -69L1013 -72L1016 -78L1016 -84L1014 -89L1008 -92L1003 -91L991 -84L977 -91L972 -92ZM932 20L937 12L944 11L951 14L952 13L954 14L983 14L995 18L1000 22L995 30L983 34L949 34L937 30ZM962 -76L970 -76L976 -73L982 -64L982 -44L979 -38L970 -32L962 -32L956 -35L950 -44L950 -64L953 -70ZM817 -90L814 -84L816 -79L822 -76L832 -75L832 -9L822 -8L817 -6L814 0L816 5L822 8L864 8L869 6L872 0L870 -5L864 -8L854 -9L854 -47L858 -59L870 -72L878 -76L881 -75L880 -72L882 -66L888 -60L894 -58L900 -60L906 -66L908 -72L908 -78L906 -84L900 -90L894 -92L871 -91L861 -86L855 -81L852 -89L846 -92L822 -92ZM708 -78L706 -72L706 -66L708 -61L714 -58L720 -58L725 -60L728 -66L728 -72L734 -76L754 -76L762 -72L766 -68L766 -64L763 -61L735 -57L730 -55L729 -56L711 -50L706 -45L701 -35L700 -18L701 -13L706 -3L711 2L729 8L730 7L750 8L755 7L772 -3L777 2L787 7L798 8L804 5L806 0L804 -5L796 -8L792 -12L788 -20L787 -65L780 -78L774 -84L761 -91L756 -92L732 -92L727 -91L717 -86ZM766 -44L766 -22L756 -12L748 -8L734 -8L725 -14L722 -20L722 -28L728 -37L736 -41L760 -45ZM409 -90L406 -84L406 -60L408 -55L414 -52L419 -54L422 -58L427 -76L462 -76L463 -75L408 -6L406 0L408 5L414 8L486 8L491 6L494 0L494 -24L492 -29L486 -32L481 -30L478 -26L473 -8L438 -8L437 -9L492 -78L494 -84L492 -89L486 -92L414 -92ZM1956 -134L1950 -132L1944 -126L1942 -120L1944 -114L1950 -108L1956 -106L1962 -108L1968 -114L1970 -120L1968 -126L1962 -132ZM1866 -134L1861 -132L1858 -126L1858 -93L1845 -91L1842 -89L1840 -84L1843 -78L1848 -76L1858 -75L1858 -24L1859 -23L1858 -21L1864 -3L1869 2L1879 7L1884 8L1901 7L1911 2L1916 -3L1921 -13L1922 -18L1920 -23L1914 -26L1909 -24L1906 -21L1903 -14L1894 -8L1888 -8L1884 -13L1880 -25L1880 -75L1899 -77L1902 -79L1904 -84L1902 -89L1899 -91L1880 -93L1880 -126L1879 -129L1875 -133ZM1554 -134L1549 -132L1546 -126L1549 -120L1554 -118L1564 -117L1564 -9L1551 -7L1548 -5L1546 0L1548 5L1554 8L1596 8L1601 6L1604 0L1602 -5L1596 -8L1586 -9L1586 -126L1584 -131L1578 -134ZM1170 -134L1165 -132L1162 -126L1162 -93L1149 -91L1146 -89L1144 -84L1147 -78L1152 -76L1162 -75L1162 -24L1163 -23L1162 -21L1168 -3L1173 2L1183 7L1188 8L1205 7L1215 2L1220 -3L1225 -13L1226 -18L1224 -23L1218 -26L1213 -24L1210 -21L1207 -14L1198 -8L1192 -8L1188 -13L1184 -25L1184 -75L1203 -77L1206 -79L1208 -84L1206 -89L1203 -91L1184 -93L1184 -126L1183 -129L1179 -133ZM630 -134L625 -132L622 -126L622 -93L609 -91L606 -89L604 -84L607 -78L612 -76L622 -75L622 -24L623 -23L622 -21L628 -3L633 2L643 7L648 8L665 7L675 2L680 -3L685 -13L686 -18L684 -23L678 -26L673 -24L670 -21L667 -14L658 -8L652 -8L648 -13L644 -25L644 -75L663 -77L666 -79L668 -84L666 -89L663 -91L644 -93L644 -126L643 -129L639 -133ZM265 -132L262 -126L264 -121L270 -118L280 -117L280 -9L270 -8L265 -6L262 0L264 5L270 8L306 8L311 6L314 0L311 -6L306 -8L296 -9L296 -93L297 -94L359 4L366 8L371 6L374 0L374 -117L384 -118L389 -120L392 -126L390 -131L384 -134L348 -134L343 -132L340 -126L343 -120L348 -118L358 -117L358 -42L357 -41L299 -132L294 -134L270 -134ZM127 -132L124 -126L126 -121L132 -118L142 -117L142 -9L132 -8L127 -6L124 0L126 5L132 8L168 8L173 6L176 0L173 -6L168 -8L158 -9L158 -93L159 -94L221 4L228 8L233 6L236 0L236 -117L246 -118L251 -120L254 -126L252 -131L246 -134L210 -134L205 -132L202 -126L205 -120L210 -118L220 -117L220 -42L219 -41L161 -132L156 -134L132 -134ZM63 -133L60 -134L57 -133L52 -129L13 -10L11 -8L3 -7L-1 -3L-2 0L-1 3L3 7L6 8L42 8L48 5L50 0L47 -6L42 -8L31 -8L30 -9L35 -26L37 -28L77 -28L79 -26L84 -9L78 -8L72 -5L70 0L72 5L78 8L114 8L119 6L122 0L119 -6L114 -8L109 -8L107 -10L68 -129ZM57 -90L72 -47L71 -44L43 -44L42 -45Z" transform="translate(314.42 714.49) scale(0.11052 0.10070)" fill="#000"/>
<path d="M3720 -48L3714 -50L3697 -49L3687 -44L3682 -39L3677 -29L3676 -12L3678 -6L3690 6L3696 8L3713 7L3723 2L3728 -3L3733 -13L3734 -30L3732 -36ZM3710 -34L3718 -26L3718 -20L3712 -11L3706 -8L3700 -8L3692 -16L3692 -22L3698 -31L3704 -34ZM120 -48L114 -50L97 -49L87 -44L82 -39L77 -29L76 -12L78 -6L90 6L96 8L113 7L123 2L128 -3L133 -13L134 -30L132 -36ZM110 -34L118 -26L118 -20L112 -11L106 -8L100 -8L92 -16L92 -22L98 -31L104 -34ZM4372 -54L4374 -49L4380 -46L4488 -46L4493 -48L4496 -54L4494 -59L4488 -62L4380 -62L4375 -60ZM5043 -92L5025 -86L5010 -72L5002 -51L5003 -50L5002 -48L5003 -34L5002 -33L5008 -15L5022 0L5043 8L5044 7L5046 8L5060 7L5061 8L5082 0L5094 -12L5096 -18L5094 -23L5088 -26L5082 -24L5069 -12L5057 -8L5048 -8L5040 -12L5029 -23L5024 -39L5025 -40L5088 -40L5093 -42L5095 -45L5096 -60L5095 -65L5090 -75L5079 -86L5069 -91L5064 -92L5046 -92L5045 -91ZM5028 -59L5040 -72L5048 -76L5062 -76L5068 -73L5074 -64L5073 -56L5029 -56ZM4789 -91L4776 -84L4770 -78L4768 -72L4768 -60L4770 -54L4779 -46L4830 -24L4834 -20L4834 -16L4830 -12L4822 -8L4802 -8L4794 -12L4788 -18L4784 -27L4781 -30L4776 -32L4771 -30L4768 -24L4769 3L4771 6L4776 8L4781 6L4785 2L4795 7L4800 8L4829 7L4842 0L4848 -6L4850 -12L4850 -30L4848 -36L4839 -44L4802 -59L4788 -66L4785 -69L4788 -72L4796 -76L4816 -76L4824 -72L4830 -66L4834 -57L4837 -54L4842 -52L4847 -54L4850 -60L4849 -87L4847 -90L4842 -92L4837 -90L4833 -86L4823 -91L4818 -92ZM4656 -78L4654 -72L4654 -66L4656 -61L4662 -58L4668 -58L4673 -60L4676 -66L4676 -72L4682 -76L4702 -76L4710 -72L4714 -68L4714 -64L4711 -61L4683 -57L4678 -55L4677 -56L4659 -50L4654 -45L4649 -35L4648 -18L4649 -13L4654 -3L4659 2L4677 8L4678 7L4698 8L4703 7L4720 -3L4725 2L4735 7L4746 8L4752 5L4754 0L4752 -5L4744 -8L4740 -12L4736 -20L4735 -65L4728 -78L4722 -84L4709 -91L4704 -92L4680 -92L4675 -91L4665 -86ZM4714 -44L4714 -22L4704 -12L4696 -8L4682 -8L4673 -14L4670 -20L4670 -28L4676 -37L4684 -41L4708 -45ZM4285 -91L4272 -84L4266 -78L4259 -65L4258 -48L4259 -43L4262 -38L4253 -23L4252 -12L4256 -1L4252 3L4247 13L4246 18L4247 29L4252 39L4257 44L4275 50L4276 49L4278 50L4314 50L4316 49L4317 50L4335 44L4340 39L4345 29L4346 18L4345 13L4340 3L4335 -2L4317 -8L4316 -7L4314 -8L4285 -8L4273 -12L4268 -16L4273 -24L4285 -17L4290 -16L4307 -17L4320 -24L4326 -30L4333 -43L4334 -60L4331 -69L4343 -72L4346 -78L4346 -84L4344 -89L4338 -92L4333 -91L4321 -84L4307 -91L4302 -92ZM4262 20L4267 12L4274 11L4281 14L4282 13L4284 14L4313 14L4325 18L4330 22L4325 30L4313 34L4279 34L4267 30ZM4292 -76L4300 -76L4306 -73L4312 -64L4312 -44L4309 -38L4300 -32L4292 -32L4286 -35L4280 -44L4280 -64L4283 -70ZM4116 -89L4114 -84L4117 -78L4122 -76L4132 -75L4132 -9L4122 -8L4117 -6L4114 0L4117 6L4122 8L4164 8L4170 5L4172 0L4169 -6L4164 -8L4154 -9L4154 -62L4163 -71L4177 -76L4186 -76L4192 -73L4198 -64L4198 -9L4188 -8L4183 -6L4180 0L4182 5L4188 8L4230 8L4236 5L4238 0L4235 -6L4230 -8L4220 -9L4220 -66L4219 -71L4214 -81L4209 -86L4191 -92L4190 -91L4188 -92L4174 -91L4173 -92L4155 -86L4154 -84L4152 -89L4146 -92L4122 -92ZM4041 -92L4023 -86L4008 -72L4000 -51L4001 -50L4000 -48L4001 -34L4000 -33L4006 -15L4020 0L4041 8L4042 7L4044 8L4058 7L4059 8L4077 2L4092 -12L4100 -33L4099 -34L4100 -36L4099 -50L4100 -51L4094 -69L4080 -84L4059 -92L4058 -91L4056 -92L4042 -91ZM4046 -76L4054 -76L4062 -72L4073 -61L4078 -47L4078 -37L4073 -23L4062 -12L4054 -8L4046 -8L4038 -12L4027 -23L4022 -37L4022 -47L4027 -61L4038 -72ZM3378 -89L3376 -84L3379 -78L3384 -76L3394 -75L3394 -9L3384 -8L3379 -6L3376 0L3379 6L3384 8L3426 8L3432 5L3434 0L3431 -6L3426 -8L3416 -9L3416 -62L3425 -71L3439 -76L3448 -76L3454 -73L3460 -64L3460 -9L3450 -8L3445 -6L3442 0L3444 5L3450 8L3492 8L3498 5L3500 0L3497 -6L3492 -8L3482 -9L3482 -66L3481 -71L3476 -81L3471 -86L3453 -92L3452 -91L3450 -92L3436 -91L3435 -92L3417 -86L3416 -84L3414 -89L3408 -92L3384 -92ZM3313 -90L3310 -84L3312 -79L3318 -76L3328 -75L3328 -9L3318 -8L3313 -6L3310 0L3312 5L3318 8L3360 8L3365 6L3368 0L3366 -5L3360 -8L3350 -9L3350 -84L3348 -89L3342 -92L3318 -92ZM2227 -90L2224 -84L2226 -79L2232 -76L2242 -75L2242 -9L2232 -8L2227 -6L2224 0L2226 5L2232 8L2274 8L2279 6L2282 0L2280 -5L2274 -8L2264 -9L2264 -84L2262 -89L2256 -92L2232 -92ZM2085 -92L2067 -86L2052 -72L2044 -51L2045 -50L2044 -48L2045 -34L2044 -33L2050 -15L2064 0L2085 8L2086 7L2088 8L2102 7L2103 8L2121 2L2136 -12L2144 -33L2143 -34L2144 -36L2143 -50L2144 -51L2138 -69L2124 -84L2103 -92L2102 -91L2100 -92L2086 -91ZM2090 -76L2098 -76L2106 -72L2117 -61L2122 -47L2122 -37L2117 -23L2106 -12L2098 -8L2090 -8L2082 -12L2071 -23L2066 -37L2066 -47L2071 -61L2082 -72ZM1963 -91L1950 -84L1944 -78L1942 -72L1942 -60L1944 -54L1953 -46L2004 -24L2008 -20L2008 -16L2004 -12L1996 -8L1976 -8L1968 -12L1962 -18L1958 -27L1955 -30L1950 -32L1945 -30L1942 -24L1943 3L1945 6L1950 8L1955 6L1959 2L1969 7L1974 8L2003 7L2016 0L2022 -6L2024 -12L2024 -30L2022 -36L2013 -44L1976 -59L1962 -66L1959 -69L1962 -72L1970 -76L1990 -76L1998 -72L2004 -66L2008 -57L2011 -54L2016 -52L2021 -54L2024 -60L2023 -87L2021 -90L2016 -92L2011 -90L2007 -86L1997 -91L1992 -92ZM1584 -78L1582 -72L1582 -66L1584 -61L1590 -58L1596 -58L1601 -60L1604 -66L1604 -72L1610 -76L1630 -76L1638 -72L1642 -68L1642 -64L1639 -61L1611 -57L1606 -55L1605 -56L1587 -50L1582 -45L1577 -35L1576 -18L1577 -13L1582 -3L1587 2L1605 8L1606 7L1626 8L1631 7L1648 -3L1653 2L1663 7L1674 8L1680 5L1682 0L1680 -5L1672 -8L1668 -12L1664 -20L1663 -65L1656 -78L1650 -84L1637 -91L1632 -92L1608 -92L1603 -91L1593 -86ZM1642 -44L1642 -22L1632 -12L1624 -8L1610 -8L1601 -14L1598 -20L1598 -28L1604 -37L1612 -41L1636 -45ZM1407 -92L1389 -86L1374 -72L1366 -51L1367 -50L1366 -48L1367 -34L1366 -33L1372 -15L1386 0L1407 8L1408 7L1410 8L1424 7L1425 8L1443 2L1458 -12L1466 -33L1465 -34L1466 -36L1465 -50L1466 -51L1460 -69L1446 -84L1425 -92L1424 -91L1422 -92L1408 -91ZM1412 -76L1420 -76L1428 -72L1439 -61L1444 -47L1444 -37L1439 -23L1428 -12L1420 -8L1412 -8L1404 -12L1393 -23L1388 -37L1388 -47L1393 -61L1404 -72ZM979 -91L966 -84L960 -78L958 -72L958 -60L960 -54L969 -46L1020 -24L1024 -20L1024 -16L1020 -12L1012 -8L992 -8L984 -12L978 -18L974 -27L971 -30L966 -32L961 -30L958 -24L959 3L961 6L966 8L971 6L975 2L985 7L990 8L1019 7L1032 0L1038 -6L1040 -12L1040 -30L1038 -36L1029 -44L992 -59L978 -66L975 -69L978 -72L986 -76L1006 -76L1014 -72L1020 -66L1024 -57L1027 -54L1032 -52L1037 -54L1040 -60L1039 -87L1037 -90L1032 -92L1027 -90L1023 -86L1013 -91L1008 -92ZM885 -92L867 -86L852 -72L844 -51L845 -50L844 -48L845 -34L844 -33L850 -15L864 0L885 8L886 7L888 8L902 7L903 8L924 0L936 -12L938 -18L936 -23L930 -26L924 -24L911 -12L899 -8L890 -8L882 -12L871 -23L866 -39L867 -40L930 -40L935 -42L937 -45L938 -60L937 -65L932 -75L921 -86L911 -91L906 -92L888 -92L887 -91ZM870 -59L882 -72L890 -76L904 -76L910 -73L916 -64L915 -56L871 -56ZM775 -90L772 -84L774 -79L780 -76L790 -75L790 -9L780 -8L775 -6L772 0L774 5L780 8L822 8L827 6L830 0L828 -5L822 -8L812 -9L812 -84L810 -89L804 -92L780 -92ZM654 -89L652 -84L654 -79L660 -76L668 -76L696 -41L668 -8L660 -8L654 -5L652 0L655 6L660 8L696 8L701 6L704 0L702 -5L699 -7L690 -9L706 -27L721 -9L715 -6L712 0L715 6L720 8L756 8L762 5L764 0L762 -5L756 -8L748 -8L720 -43L748 -76L756 -76L762 -79L764 -84L761 -90L756 -92L720 -92L715 -90L712 -84L714 -79L717 -77L726 -75L710 -57L695 -75L701 -78L704 -84L701 -90L696 -92L660 -92ZM546 -78L544 -72L544 -66L546 -61L552 -58L558 -58L563 -60L566 -66L566 -72L572 -76L592 -76L600 -72L604 -68L604 -64L601 -61L573 -57L568 -55L567 -56L549 -50L544 -45L539 -35L538 -18L539 -13L544 -3L549 2L567 8L568 7L588 8L593 7L610 -3L615 2L625 7L636 8L642 5L644 0L642 -5L634 -8L630 -12L626 -20L625 -65L618 -78L612 -84L599 -91L594 -92L570 -92L565 -91L555 -86ZM604 -44L604 -22L594 -12L586 -8L572 -8L563 -14L560 -20L560 -28L566 -37L574 -41L598 -45ZM360 -78L358 -72L358 -66L360 -61L366 -58L372 -58L377 -60L380 -66L380 -72L386 -76L406 -76L414 -72L418 -68L418 -64L415 -61L387 -57L382 -55L381 -56L363 -50L358 -45L353 -35L352 -18L353 -13L358 -3L363 2L381 8L382 7L402 8L407 7L424 -3L429 2L439 7L450 8L456 5L458 0L456 -5L448 -8L444 -12L440 -20L439 -65L432 -78L426 -84L413 -91L408 -92L384 -92L379 -91L369 -86ZM418 -44L418 -22L408 -12L400 -8L386 -8L377 -14L374 -20L374 -28L380 -37L388 -41L412 -45ZM271 -91L258 -84L252 -78L245 -65L244 -48L245 -43L248 -38L239 -23L238 -12L242 -1L238 3L233 13L232 18L233 29L238 39L243 44L261 50L262 49L264 50L300 50L302 49L303 50L321 44L326 39L331 29L332 18L331 13L326 3L321 -2L303 -8L302 -7L300 -8L271 -8L259 -12L254 -16L259 -24L271 -17L276 -16L293 -17L306 -24L312 -30L319 -43L320 -60L317 -69L329 -72L332 -78L332 -84L330 -89L324 -92L319 -91L307 -84L293 -91L288 -92ZM248 20L253 12L260 11L267 14L268 13L270 14L299 14L311 18L316 22L311 30L299 34L265 34L253 30ZM278 -76L286 -76L292 -73L298 -64L298 -44L295 -38L286 -32L278 -32L272 -35L266 -44L266 -64L269 -70ZM5178 -134L5173 -132L5170 -126L5173 -120L5178 -118L5188 -117L5188 -87L5186 -86L5177 -91L5172 -92L5160 -92L5159 -91L5157 -92L5136 -84L5122 -69L5116 -51L5117 -50L5116 -48L5117 -34L5116 -33L5122 -15L5139 2L5157 8L5158 7L5160 8L5177 7L5188 1L5191 6L5196 8L5220 8L5225 6L5228 0L5226 -5L5220 -8L5210 -9L5210 -126L5208 -131L5202 -134ZM5162 -76L5170 -76L5178 -72L5188 -62L5188 -22L5178 -12L5170 -8L5162 -8L5154 -12L5143 -23L5138 -37L5138 -47L5143 -61L5154 -72ZM4867 -132L4864 -126L4866 -121L4872 -118L4882 -117L4882 -9L4872 -8L4867 -6L4864 0L4866 5L4872 8L4914 8L4920 5L4922 0L4919 -6L4914 -8L4904 -9L4904 -62L4915 -72L4927 -76L4936 -76L4942 -73L4948 -64L4948 -9L4938 -8L4933 -6L4930 0L4932 5L4938 8L4980 8L4985 6L4988 0L4986 -5L4980 -8L4970 -9L4970 -66L4969 -71L4964 -81L4959 -86L4941 -92L4940 -91L4938 -92L4924 -91L4923 -92L4905 -86L4904 -87L4904 -126L4902 -131L4896 -134L4872 -134ZM4584 -134L4579 -132L4576 -126L4579 -120L4584 -118L4594 -117L4594 -87L4592 -86L4583 -91L4578 -92L4566 -92L4565 -91L4563 -92L4542 -84L4528 -69L4522 -51L4523 -50L4522 -48L4523 -34L4522 -33L4528 -15L4545 2L4563 8L4564 7L4566 8L4583 7L4594 1L4597 6L4602 8L4626 8L4631 6L4634 0L4632 -5L4626 -8L4616 -9L4616 -126L4614 -131L4608 -134ZM4568 -76L4576 -76L4584 -72L4594 -62L4594 -22L4584 -12L4576 -8L4568 -8L4560 -12L4549 -23L4544 -37L4544 -47L4549 -61L4560 -72ZM3936 -134L3931 -132L3928 -126L3931 -120L3936 -118L3946 -117L3946 -9L3933 -7L3930 -5L3928 0L3930 5L3936 8L3978 8L3983 6L3986 0L3984 -5L3978 -8L3968 -9L3968 -126L3966 -131L3960 -134ZM3731 -132L3726 -134L3721 -133L3710 -127L3695 -122L3679 -122L3664 -127L3653 -133L3636 -134L3631 -133L3621 -128L3616 -123L3611 -113L3610 -96L3612 -90L3624 -78L3630 -76L3647 -77L3657 -82L3662 -87L3667 -97L3669 -108L3675 -106L3676 -107L3678 -106L3696 -106L3697 -107L3698 -105L3614 -8L3610 0L3613 6L3618 8L3623 6L3730 -118L3734 -126ZM3644 -118L3652 -110L3652 -104L3646 -95L3640 -92L3634 -92L3626 -100L3626 -106L3632 -115L3638 -118ZM3336 -134L3330 -132L3324 -126L3322 -120L3324 -114L3330 -108L3336 -106L3342 -108L3348 -114L3350 -120L3348 -126L3342 -132ZM3085 -132L3082 -126L3084 -121L3090 -118L3100 -117L3100 -9L3090 -8L3085 -6L3082 0L3084 5L3090 8L3132 8L3138 5L3140 0L3137 -6L3132 -8L3122 -9L3122 -57L3123 -58L3142 -58L3151 -52L3155 -44L3168 0L3174 6L3180 8L3192 8L3197 6L3200 3L3205 -7L3206 -12L3205 -21L3201 -25L3198 -26L3192 -23L3189 -15L3183 -24L3171 -54L3168 -58L3169 -60L3186 -66L3192 -72L3199 -85L3200 -102L3199 -107L3192 -120L3183 -128L3165 -134L3164 -133L3162 -134L3090 -134ZM3122 -117L3123 -118L3160 -118L3168 -114L3174 -108L3178 -100L3178 -92L3174 -84L3168 -78L3160 -74L3123 -74L3122 -75ZM3003 -134L2985 -128L2970 -114L2968 -108L2969 -91L2976 -78L2985 -70L2997 -64L3032 -53L3042 -48L3052 -38L3052 -22L3041 -12L3029 -8L3013 -8L2999 -13L2989 -23L2984 -39L2981 -42L2976 -44L2971 -42L2968 -36L2968 0L2970 5L2976 8L2981 6L2984 3L2986 -2L2990 0L2991 2L3009 8L3010 7L3012 8L3032 7L3033 8L3051 2L3066 -12L3068 -18L3067 -47L3060 -60L3054 -66L3039 -74L3004 -85L2994 -90L2984 -100L2984 -104L2995 -114L3007 -118L3023 -118L3037 -113L3047 -103L3052 -87L3055 -84L3060 -82L3065 -84L3068 -90L3068 -126L3066 -131L3060 -134L3055 -132L3052 -129L3050 -124L3046 -126L3045 -128L3027 -134L3026 -133L3024 -134L3004 -133ZM2883 -134L2865 -128L2850 -114L2848 -108L2849 -91L2856 -78L2865 -70L2877 -64L2912 -53L2922 -48L2932 -38L2932 -22L2921 -12L2909 -8L2893 -8L2879 -13L2869 -23L2864 -39L2861 -42L2856 -44L2851 -42L2848 -36L2848 0L2850 5L2856 8L2861 6L2864 3L2866 -2L2870 0L2871 2L2889 8L2890 7L2892 8L2912 7L2913 8L2931 2L2946 -12L2948 -18L2947 -47L2940 -60L2934 -66L2919 -74L2884 -85L2874 -90L2864 -100L2864 -104L2875 -114L2887 -118L2903 -118L2917 -113L2927 -103L2932 -87L2935 -84L2940 -82L2945 -84L2948 -90L2948 -126L2946 -131L2940 -134L2935 -132L2932 -129L2930 -124L2926 -126L2925 -128L2907 -134L2906 -133L2904 -134L2884 -133ZM2637 -128L2632 -123L2627 -113L2626 -108L2626 -96L2627 -95L2626 -93L2632 -75L2635 -71L2613 -56L2608 -51L2603 -41L2602 -18L2603 -13L2608 -3L2613 2L2631 8L2632 7L2652 8L2657 7L2667 2L2679 -9L2691 2L2709 8L2710 7L2718 8L2724 6L2730 0L2732 -6L2732 -12L2730 -17L2724 -20L2719 -18L2714 -8L2706 -12L2692 -26L2692 -28L2697 -36L2707 -62L2709 -63L2712 -60L2718 -58L2724 -60L2730 -66L2732 -72L2732 -78L2730 -84L2724 -90L2718 -92L2712 -92L2706 -90L2698 -81L2683 -44L2681 -42L2661 -69L2670 -78L2677 -91L2678 -108L2677 -113L2672 -123L2667 -128L2657 -133L2652 -134L2647 -133ZM2644 -57L2668 -24L2668 -22L2658 -12L2650 -8L2636 -8L2630 -11L2624 -20L2624 -34L2628 -42ZM2652 -117L2659 -112L2662 -106L2662 -98L2658 -90L2651 -83L2642 -98L2642 -106L2645 -112ZM2358 -134L2353 -132L2350 -126L2353 -120L2358 -118L2368 -117L2368 -87L2366 -86L2357 -91L2352 -92L2340 -92L2339 -91L2337 -92L2316 -84L2302 -69L2296 -51L2297 -50L2296 -48L2297 -34L2296 -33L2302 -15L2319 2L2337 8L2338 7L2340 8L2357 7L2368 1L2371 6L2376 8L2400 8L2405 6L2408 0L2406 -5L2400 -8L2390 -9L2390 -126L2388 -131L2382 -134ZM2342 -76L2350 -76L2358 -72L2368 -62L2368 -22L2358 -12L2350 -8L2342 -8L2334 -12L2323 -23L2318 -37L2318 -47L2323 -61L2334 -72ZM2250 -134L2244 -132L2238 -126L2236 -120L2238 -114L2244 -108L2250 -106L2256 -108L2262 -114L2264 -120L2262 -126L2256 -132ZM2166 -134L2161 -132L2158 -126L2161 -120L2166 -118L2176 -117L2176 -9L2163 -7L2160 -5L2158 0L2160 5L2166 8L2208 8L2213 6L2216 0L2214 -5L2208 -8L2198 -9L2198 -126L2196 -131L2190 -134ZM1698 -134L1693 -132L1690 -126L1693 -120L1698 -118L1708 -117L1708 -9L1695 -7L1692 -5L1690 0L1692 5L1698 8L1740 8L1745 6L1748 0L1746 -5L1740 -8L1730 -9L1730 -126L1728 -131L1722 -134ZM1506 -134L1501 -132L1498 -126L1498 -93L1485 -91L1482 -89L1480 -84L1483 -78L1488 -76L1498 -75L1498 -24L1499 -23L1498 -21L1504 -3L1509 2L1519 7L1524 8L1541 7L1551 2L1556 -3L1561 -13L1562 -18L1560 -23L1554 -26L1549 -24L1546 -21L1543 -14L1534 -8L1528 -8L1524 -13L1520 -25L1520 -75L1539 -77L1542 -79L1544 -84L1542 -89L1539 -91L1520 -93L1520 -126L1519 -129L1515 -133ZM1296 -134L1291 -132L1288 -126L1288 -93L1275 -91L1272 -89L1270 -84L1273 -78L1278 -76L1288 -75L1288 -24L1289 -23L1288 -21L1294 -3L1299 2L1309 7L1314 8L1331 7L1341 2L1346 -3L1351 -13L1352 -18L1350 -23L1344 -26L1339 -24L1336 -21L1333 -14L1324 -8L1318 -8L1314 -13L1310 -25L1310 -75L1329 -77L1332 -79L1334 -84L1332 -89L1329 -91L1310 -93L1310 -126L1309 -129L1305 -133ZM798 -134L792 -132L786 -126L784 -120L786 -114L792 -108L798 -106L804 -108L810 -114L812 -120L810 -126L804 -132ZM474 -134L469 -132L466 -126L469 -120L474 -118L484 -117L484 -9L471 -7L468 -5L466 0L468 5L474 8L516 8L521 6L524 0L522 -5L516 -8L506 -9L506 -126L504 -131L498 -134ZM131 -132L126 -134L121 -133L110 -127L95 -122L79 -122L64 -127L53 -133L36 -134L31 -133L21 -128L16 -123L11 -113L10 -96L12 -90L24 -78L30 -76L47 -77L57 -82L62 -87L67 -97L69 -108L75 -106L76 -107L78 -106L96 -106L97 -107L98 -105L14 -8L10 0L13 6L18 8L23 6L130 -118L134 -126ZM44 -118L52 -110L52 -104L46 -95L40 -92L34 -92L26 -100L26 -106L32 -115L38 -118ZM5250 -158L5245 -156L5242 -150L5244 -144L5256 -132L5267 -110L5273 -92L5278 -67L5278 -41L5273 -16L5267 2L5256 24L5244 36L5242 42L5244 47L5250 50L5256 48L5268 36L5282 15L5293 -7L5300 -39L5299 -41L5300 -42L5300 -66L5299 -67L5300 -69L5293 -101L5282 -123L5268 -144L5256 -156ZM3906 -158L3900 -156L3888 -144L3874 -123L3863 -101L3856 -69L3857 -67L3856 -66L3856 -42L3857 -41L3856 -39L3863 -7L3874 15L3888 36L3900 48L3906 50L3911 48L3914 42L3912 36L3900 24L3889 2L3883 -16L3878 -41L3878 -67L3883 -92L3889 -110L3900 -132L3912 -144L3914 -150L3912 -155ZM2430 -158L2425 -156L2422 -150L2424 -144L2436 -132L2447 -110L2453 -92L2458 -67L2458 -41L2453 -16L2447 2L2436 24L2424 36L2422 42L2424 47L2430 50L2436 48L2448 36L2462 15L2473 -7L2480 -39L2479 -41L2480 -42L2480 -66L2479 -67L2480 -69L2473 -101L2462 -123L2448 -144L2436 -156ZM1914 -158L1908 -156L1896 -144L1882 -123L1871 -101L1864 -69L1865 -67L1864 -66L1864 -42L1865 -41L1864 -39L1871 -7L1882 15L1896 36L1908 48L1914 50L1919 48L1922 42L1920 36L1908 24L1897 2L1891 -16L1886 -41L1886 -67L1891 -92L1897 -110L1908 -132L1920 -144L1922 -150L1920 -155ZM1259 -156L1254 -158L1249 -156L1246 -153L1142 32L1138 42L1141 48L1146 50L1151 48L1154 45L1258 -140L1262 -150ZM1068 -158L1063 -156L1060 -150L1063 -144L1068 -142L1095 -142L1096 -141L1096 33L1095 34L1068 34L1063 36L1060 42L1062 47L1068 50L1110 50L1115 48L1118 42L1118 -150L1116 -155L1110 -158ZM168 -158L163 -156L160 -150L160 42L162 47L168 50L210 50L215 48L218 42L215 36L210 34L183 34L182 33L182 -141L183 -142L210 -142L215 -144L218 -150L216 -155L210 -158Z" transform="rotate(-90) translate(-620.80 21.10) scale(0.10028 0.11070)" fill="#000"/>
<path d="M90.6 73.5 H101.4 M110 73.5 H120.8 M129.5 73.5 H140.3 M148.9 73.5 H159.8 M168.4 73.5 H179.2 M187.8 73.5 H198.6 M207.3 73.5 H218.1 M226.7 73.5 H237.5 M246.2 73.5 H257 M265.6 73.5 H276.4 M285.1 73.5 H295.9 M304.5 73.5 H315.3 M324 73.5 H334.8 M343.4 73.5 H354.2 M362.9 73.5 H373.7 M382.3 73.5 H393.1 M401.8 73.5 H412.6 M421.2 73.5 H432 M440.7 73.5 H451.5 M460.1 73.5 H470.9 M479.6 73.5 H490.4 M499 73.5 H509.8 M518.5 73.5 H529.3 M537.9 73.5 H548.7 M557.4 73.5 H568.2 M576.8 73.5 H587.6" stroke="#ff0000" stroke-width="1.4" fill="none"/>
<path d="M90.6 79.5 H101.4 M110 79.5 H120.8 M129.5 79.5 H140.3 M148.9 79.5 H159.8 M168.4 79.5 H179.2 M187.8 79.5 H198.6 M207.3 79.5 H218.1 M226.7 79.5 H237.5 M246.2 79.5 H257 M265.6 79.5 H276.4 M285.1 79.5 H295.9 M304.5 79.5 H315.3 M324 79.5 H334.8 M343.4 79.5 H354.2 M362.9 79.5 H373.7 M382.3 79.5 H393.1 M401.8 79.5 H412.6 M421.2 79.5 H432 M440.7 79.5 H451.5 M460.1 79.5 H470.9 M479.6 79.5 H490.4 M499 79.5 H509.8 M518.5 79.5 H529.3 M537.9 79.5 H548.7 M557.4 79.5 H568.2 M576.8 79.5 H587.6" stroke="#00ff00" stroke-width="1.4" fill="none"/>
<path d="M90.6 100.7 H101.4 M110 100.7 H120.8 M129.5 100.7 H140.3 M148.9 100.7 H159.8 M168.4 100.7 H179.2 M187.8 100.7 H198.6 M207.3 100.7 H218.1 M226.7 100.7 H237.5 M246.2 100.7 H257 M265.6 100.7 H276.4 M285.1 100.7 H295.9 M304.5 100.7 H315.3 M324 100.7 H334.8 M343.4 100.7 H354.2 M362.9 100.7 H373.7 M382.3 100.7 H393.1 M401.8 100.7 H412.6 M421.2 100.7 H432 M440.7 100.7 H451.5 M460.1 100.7 H470.9 M479.6 100.7 H490.4 M499 100.7 H509.8 M518.5 100.7 H529.3 M537.9 100.7 H548.7 M557.4 100.7 H568.2 M576.8 100.7 H587.6" stroke="#0000ff" stroke-width="1.4" fill="none"/>
<path d="M270 -19L265 -17L259 -11L257 -6L259 -1L265 5L270 7L275 5L281 -1L283 -6L281 -11L275 -17ZM378 -133L372 -130L306 -40L305 -36L306 -33L312 -29L364 -29L365 -28L365 -8L351 -6L347 0L348 3L354 7L396 7L399 6L402 3L403 0L402 -3L396 -7L386 -7L385 -8L385 -28L386 -29L408 -29L411 -30L415 -36L414 -39L408 -43L386 -43L385 -44L385 -126L384 -129ZM364 -95L365 -94L365 -44L364 -43L327 -43L326 -44ZM222 -133L219 -132L215 -128L211 -119L207 -115L200 -115L176 -130L168 -133L156 -133L151 -131L146 -126L141 -132L138 -133L132 -129L131 -126L131 -90L135 -84L138 -83L144 -87L145 -101L148 -107L157 -113L167 -113L193 -102L198 -101L210 -101L211 -102L212 -101L210 -94L181 -65L173 -50L167 -32L168 -31L167 -30L167 0L171 6L180 7L186 3L187 0L187 -30L192 -45L198 -57L223 -88L229 -106L228 -107L229 -108L229 -126L228 -129ZM68 -133L67 -132L66 -133L54 -133L53 -132L52 -133L31 -125L17 -110L11 -92L12 -91L11 -82L17 -64L34 -47L52 -41L53 -42L62 -41L80 -47L87 -53L88 -52L84 -34L79 -23L67 -11L59 -7L43 -7L35 -12L41 -19L43 -24L41 -29L35 -35L30 -37L27 -36L19 -29L17 -24L17 -18L23 -4L28 1L42 7L60 7L61 6L62 7L83 -1L97 -16L103 -28L109 -51L108 -53L109 -54L109 -90L108 -91L109 -92L103 -110L86 -127ZM55 -119L65 -119L73 -115L84 -104L89 -90L89 -84L84 -70L74 -60L60 -55L55 -55L47 -59L36 -70L31 -84L31 -90L36 -104L47 -115Z" transform="translate(171.77 72.83) scale(0.11185 0.09574)" fill="#ff0000"/>
<path d="M270 -19L265 -17L259 -11L257 -6L259 -1L265 5L270 7L275 5L281 -1L283 -6L281 -11L275 -17ZM368 -133L367 -132L366 -133L354 -133L353 -132L352 -133L331 -125L317 -110L311 -92L312 -91L311 -82L317 -64L334 -47L352 -41L353 -42L362 -41L380 -47L387 -53L388 -52L384 -34L379 -23L367 -11L359 -7L343 -7L335 -12L341 -19L343 -24L341 -29L335 -35L330 -37L327 -36L319 -29L317 -24L317 -18L323 -4L328 1L342 7L360 7L361 6L362 7L383 -1L397 -16L403 -28L409 -51L408 -53L409 -54L409 -90L408 -91L409 -92L403 -110L386 -127ZM355 -119L365 -119L373 -115L384 -104L389 -90L389 -84L384 -70L374 -60L360 -55L355 -55L347 -59L336 -70L331 -84L331 -90L336 -104L347 -115ZM198 -133L180 -133L179 -132L178 -133L157 -125L143 -110L137 -98L131 -75L132 -73L131 -72L131 -36L132 -35L131 -34L137 -16L154 1L172 7L173 6L174 7L186 7L187 6L188 7L209 -1L223 -16L229 -34L228 -35L229 -44L223 -62L206 -79L188 -85L187 -84L178 -85L160 -79L153 -73L152 -74L156 -92L161 -103L173 -115L181 -119L197 -119L205 -114L199 -107L197 -102L199 -97L205 -91L210 -89L213 -90L221 -97L223 -102L223 -108L217 -122L212 -127ZM180 -71L185 -71L193 -67L204 -56L209 -42L209 -36L204 -22L193 -11L185 -7L175 -7L167 -11L156 -22L151 -36L151 -42L156 -56L166 -66ZM68 -133L67 -132L66 -133L54 -133L53 -132L52 -133L31 -125L17 -110L11 -92L12 -91L11 -82L17 -64L34 -47L52 -41L53 -42L62 -41L80 -47L87 -53L88 -52L84 -34L79 -23L67 -11L59 -7L43 -7L35 -12L41 -19L43 -24L41 -29L35 -35L30 -37L27 -36L19 -29L17 -24L17 -18L23 -4L28 1L42 7L60 7L61 6L62 7L83 -1L97 -16L103 -28L109 -51L108 -53L109 -54L109 -90L108 -91L109 -92L103 -110L86 -127ZM55 -119L65 -119L73 -115L84 -104L89 -90L89 -84L84 -70L74 -60L60 -55L55 -55L47 -59L36 -70L31 -84L31 -90L36 -104L47 -115Z" transform="translate(171.75 78.63) scale(0.11353 0.09574)" fill="#00ff00"/>
<path d="M270 -19L265 -17L259 -11L257 -6L259 -1L265 5L270 7L275 5L281 -1L283 -6L281 -11L275 -17ZM328 -127L319 -119L311 -102L312 -93L319 -85L324 -83L327 -84L335 -91L337 -96L335 -101L329 -107L329 -109L334 -114L348 -119L371 -119L379 -115L385 -109L389 -101L389 -91L384 -82L369 -72L334 -55L319 -41L311 -20L312 -19L311 -18L312 3L315 6L318 7L321 6L325 0L325 -9L327 -11L334 -11L362 6L366 7L393 6L401 -1L408 -14L409 -30L405 -36L402 -37L396 -33L395 -21L391 -17L383 -13L367 -13L341 -24L329 -25L328 -27L330 -32L341 -43L378 -58L400 -72L409 -90L408 -106L401 -119L395 -125L374 -133L373 -132L372 -133L348 -133L347 -132L346 -133ZM147 -132L144 -129L142 -123L131 -68L132 -63L138 -59L143 -61L156 -73L168 -77L185 -77L193 -73L204 -62L209 -48L209 -36L204 -22L193 -11L185 -7L168 -7L154 -12L149 -17L149 -19L155 -25L157 -30L155 -35L149 -41L144 -43L139 -41L133 -35L131 -30L132 -20L139 -7L145 -1L166 7L167 6L168 7L186 7L187 6L188 7L206 1L223 -16L229 -34L228 -35L229 -36L229 -48L228 -49L229 -50L223 -68L206 -85L188 -91L187 -90L186 -91L168 -91L167 -90L166 -91L150 -85L149 -88L155 -113L182 -113L211 -119L216 -123L217 -126L216 -129L210 -133L150 -133ZM68 -133L67 -132L66 -133L54 -133L53 -132L52 -133L31 -125L17 -110L11 -92L12 -91L11 -82L17 -64L34 -47L52 -41L53 -42L62 -41L80 -47L87 -53L88 -52L84 -34L79 -23L67 -11L59 -7L43 -7L35 -12L41 -19L43 -24L41 -29L35 -35L30 -37L27 -36L19 -29L17 -24L17 -18L23 -4L28 1L42 7L60 7L61 6L62 7L83 -1L97 -16L103 -28L109 -51L108 -53L109 -54L109 -90L108 -91L109 -92L103 -110L86 -127ZM55 -119L65 -119L73 -115L84 -104L89 -90L89 -84L84 -70L74 -60L60 -55L55 -55L47 -59L36 -70L31 -84L31 -90L36 -104L47 -115Z" transform="translate(171.75 99.83) scale(0.11353 0.09574)" fill="#0000ff"/>
<path d="M121.8 203.1 L153.4 202.9 L159.4 204.1 L212 204.2 L228 205.4 L266 207 L286 207.6 L296 209.4 L312 210.4 L332 210 L338 211 L348 210.6 L354 212.4 L370 214 L390 216 L406 215.6 L414 217.6 L424 220 L432 220.3 L442 223 L452 225 L468 225 L490 228 L502 232 L514 236 L522 240.6 L528 241 L534 242.6 L540 243 L550 247 L554 250.6 L560 250.5 L572 255 L580 260 L590 266 L596 267 L608 275.6 L614 278 L624 285 L634 297 L640 303 L644 304 L648 310.4 L654 318 L660 329 L666 343 L671 355 L672.3 361 L673.3 367 L674.2 373 L675.1 379 L675.9 385 L676.7 391 L677.4 397 L678.1 403 L678.7 409 L679.3 415 L679.9 421 L680.4 427 L680.9 433 L681.4 439 L681.8 445 L682.2 451 L682.6 457 L683 463 L683.4 469 L683.7 475 L684 481 L684.3 487 L684.6 493 L684.9 499 L685.2 505 L685.5 511 L685.8 517 L686.1 523 L686.4 529 L686.7 535 L687 541 L687.3 547 L687.5 553 L687.8 559 L688.1 565 L688.4 571 L688.6 577 L688.9 583 L689.2 589 L689.4 595 L689.7 601 L689.9 607 L690.2 613 L690.5 619 L690.7 625 L691 631 L691.2 637 L691.5 643 L691.8 649 L692 655 L692.3 661 L692.5 667" stroke="#ff0000" stroke-width="1.5" fill="none" stroke-linejoin="round" stroke-linecap="round"/>
<path d="M121.8 203.1 L126.3 201.7 L131.7 201.1 L140.1 197.5 L147.3 194.5 M155.2 191.2 L159.4 187 L164.2 184 L169 184.2 L173.9 182.4 L178.7 180 M186 175 L195 171 L204 166 L209 162.6 M216 157 L223 153.4 L238 148.4 L238.5 148.3 M249 147.1 L250 147 L255 146 L266 142.5 L274 139 M282.4 135 L291 131 L296 127.6 L302 126 L306 125.6 M315 123.6 L328 121 L341 118 M350 115.6 L364 112 L376 110.4 M385 109.4 L392 108 L400 105 L411 102.4 M419 101.6 L432 98.8 L446 96.4 M455 95 L459 93 L464 92.4 L471 89.6 L480 87.4 M489 85.6 L500 84 L510 82.6 L519 81 M528 80.4 L536 79.6 L546 79.4 L553 78 M563 77.8 L572 76 L580 75 L589.5 74.6 M598 72.5 L617.3 72.5 L625 70.2 M634 68.4 L645.4 67.3 L659.9 64.1 M668.9 62.5 L675.8 59.9 L680.8 60.4 L685.2 58.8 L688.8 59.1 L691.3 59.1 L692.8 55.9 M695.2 49.3 L695.7 47.9 L696.4 45 L698 45.5" stroke="#ff0000" stroke-width="1.5" fill="none" stroke-linejoin="round" stroke-linecap="round"/>
<path d="M121.8 256.7 L142.5 256.7 L167.8 258.3 L210 260.1 L240 261.6 L266 264.8 L286 266.6 L306 269 L330 271 L348 272 L354 273.6 L378 277.4 L406 280 L432 283.8 L438 286.4 L450 289 L464 290.4 L480 292.4 L490 296.4 L502 300 L512 301.6 L522 306.4 L536 309.4 L548 313 L555 316 L562 317.6 L570 320.6 L580 327 L590 334 L596 336 L606 345 L612 348 L622 357 L629 364 L636 376 L640 384 L644 390 L650 403 L652.8 409 L655 415 L656.9 421 L658.6 427 L660.2 433 L661.8 439 L663.2 445 L664.6 451 L666 457 L667.3 463 L668.5 469 L669.7 475 L670.7 481 L671.6 487 L672.5 493 L673.3 499 L674 505 L674.6 511 L675.3 517 L675.9 523 L676.5 529 L677.1 535 L677.7 541 L678.2 547 L678.8 553 L679.3 559 L679.8 565 L680.4 571 L680.9 577 L681.4 583 L681.8 589 L682.3 595 L682.8 601 L683.2 607 L683.7 613 L684.1 619 L684.5 625 L684.9 631 L685.3 637 L685.7 643 L686.1 649 L686.4 655 L686.8 661 L687.2 667" stroke="#00ff00" stroke-width="1.5" fill="none" stroke-linejoin="round" stroke-linecap="round"/>
<path d="M121.8 256.7 L127.5 252.9 L137.7 248.9 L145.5 244.5 M152.2 239.3 L158.8 232.4 L163 225.2 L167.8 219.2 M172 212.5 L178.7 201.7 L187.7 192 M192.9 186 L199.8 180 L202 177.5 L211 169 L212 168.2 M219 163 L228 158 L243 152 M251 150.2 L252 150 L266 144.5 L274 141 M284 137 L291 135 L301 130.6 L309 129.6 M318.4 126.6 L324 125.6 L334 122 L343 120 M352.4 117.6 L364 114 L377 111.6 M388 110 L398 108 L414 104.4 M423 103.6 L432 101 L444 99 M458 96 L465 95 L474 92 L485 90 M493 89.6 L502 89.4 L512 88.6 L520 86.6 M529 86 L544 85 L554 83.4 M564.2 84.3 L574 81.8 L584 80.6 L591.6 79.9 M599.6 77.8 L607.2 77.9 L617.3 77.1 L626.6 74.8 M634 74 L649.6 72.2 L662.3 69.8 M670.4 67.3 L679.4 64.2 L683 61.7 L688.1 57.3 L692.5 52 M696.4 46.8 L707.2 43.4 L717.7 49.4" stroke="#00ff00" stroke-width="1.5" fill="none" stroke-linejoin="round" stroke-linecap="round"/>
<path d="M121.8 285.4 L146.1 285.7 L164.2 286.6 L191.9 286.9 L212 288 L240 289.6 L266 292.7 L286 294.6 L302 295.6 L316 298 L332 299.6 L346 301.6 L362 304.4 L378 306.4 L406 310 L432 314.4 L452 319.4 L480 325 L500 331.4 L508 333 L518 336 L523 339 L536 343.4 L548 349 L560 356 L570 362 L580 370 L588 379.5 L595 387 L606 402 L611 408 L615.1 414 L618.7 420 L621.7 426 L624.3 432 L626.6 438 L628.8 444 L630.9 450 L632.9 456 L634.9 462 L636.7 468 L638.5 474 L640.3 480 L641.9 486 L643.5 492 L645 498 L646.5 504 L647.8 510 L649.1 516 L650.4 522 L651.6 528 L652.7 534 L653.8 540 L654.9 546 L655.9 552 L656.8 558 L657.7 564 L658.6 570 L659.5 576 L660.3 582 L661.2 588 L661.9 594 L662.7 600 L663.5 606 L664.2 612 L664.9 618 L665.6 624 L666.3 630 L667 636 L667.7 642 L668.3 648 L669 654 L669.7 660 L670.4 666 L670.5 667" stroke="#0000ff" stroke-width="1.5" fill="none" stroke-linejoin="round" stroke-linecap="round"/>
<path d="M121.8 285.4 L128.1 281.8 L138.2 278.1 L146 275.5 M148.4 274.7 L148.6 274.6 L154.6 271 L160.6 266.1 L167.8 258 M173.3 251.7 L181.1 241.4 L188.9 231.4 M193.7 225.2 L201 215.5 L210 207.1 L211 206.3 M218 201 L228 194 L240 188 M249 184 L258 179.6 L266 176.2 L272 173.6 M281 170 L291 166.6 L298 163.4 L306 160.6 M314.6 158 L327 155 L341 151 M349 149 L368 144 L375.6 143 M384 141.4 L402 137.4 L410 135.4 M419 134 L432 131.5 L445 128.4 M454 126.4 L466 123.4 L480 121.6 M489 120.4 L498 118.6 L516 116.4 M525 115.4 L540 111.4 L551 110 M560 108.6 L565 108.1 L580.2 105.2 L586.6 103.2 M593.9 100.5 L602.2 98 L607.2 97.6 L614 94.6 L620.7 93.2 M628.3 90 L638 86.6 L647.2 84.2 L653.9 81.4 M661.7 77.6 L671.3 71.6 L683 63.1 L688.8 56.2 L696.8 48.3 L701.8 47.6 L706.2 49 L711.6 51.3" stroke="#0000ff" stroke-width="1.5" fill="none" stroke-linejoin="round" stroke-linecap="round"/>
<path d="M594 79.9 V90.1 M594 97.4 V100.5" stroke="#00ff00" stroke-width="1.95" fill="none"/>
<path d="M594 100.5 V107.6 M594 114.9 V125.1 M594 132.4 V142.6 M594 149.9 V160.1 M594 167.4 V177.6 M594 184.9 V195.1 M594 202.4 V212.6 M594 219.9 V230.1 M594 237.4 V247.6 M594 254.9 V265.1 M594 272.4 V282.6 M594 289.9 V300.1 M594 307.4 V317.6 M594 324.9 V335.1 M594 342.4 V352.6 M594 359.9 V370.1 M594 377.4 V387.6 M594 394.9 V405.1 M594 412.4 V422.6 M594 429.9 V440.1 M594 447.4 V457.6 M594 464.9 V475.1 M594 482.4 V492.6 M594 499.9 V510.1 M594 517.4 V527.6 M594 534.9 V545.1 M594 552.4 V562.6 M594 569.9 V580.1 M594 587.4 V597.6 M594 604.9 V615.1 M594 622.4 V632.6 M594 639.9 V650.1 M594 657.4 V667.1" stroke="#0000ff" stroke-width="1.95" fill="none"/>
<path d="M9 -90L6 -87L5 -84L6 -81L12 -77L22 -77L23 -76L23 -8L9 -6L6 -3L5 0L6 3L12 7L54 7L57 6L60 3L61 0L60 -3L54 -7L44 -7L43 -8L43 -84L42 -87L36 -91ZM732 -115L728 -114L634 -61L630 -57L629 -54L630 -51L634 -47L728 6L732 7L735 6L739 0L738 -3L734 -7L650 -54L734 -101L738 -105L739 -108L738 -111ZM942 -133L937 -131L919 -113L910 -109L906 -105L905 -102L906 -99L912 -95L928 -103L929 -102L929 -8L909 -6L905 0L906 3L912 7L966 7L969 6L973 0L969 -6L949 -8L949 -126L948 -129ZM784 -127L775 -119L767 -102L768 -93L775 -85L780 -83L783 -84L791 -91L793 -96L791 -101L785 -107L785 -109L790 -114L804 -119L827 -119L835 -115L841 -109L845 -101L845 -91L840 -82L825 -72L790 -55L775 -41L767 -20L768 -19L767 -18L768 3L771 6L774 7L777 6L781 0L781 -9L783 -11L790 -11L818 6L822 7L849 6L857 -1L864 -14L865 -30L861 -36L858 -37L852 -33L851 -21L847 -17L839 -13L823 -13L797 -24L785 -25L784 -27L786 -32L797 -43L834 -58L856 -72L865 -90L864 -106L857 -119L851 -125L830 -133L829 -132L828 -133L804 -133L803 -132L802 -133ZM513 -132L510 -133L507 -132L503 -128L502 -123L500 -122L494 -127L476 -133L475 -132L474 -133L456 -133L455 -132L454 -133L436 -127L421 -113L419 -108L420 -92L427 -79L433 -73L448 -65L483 -54L493 -49L503 -39L503 -21L494 -12L480 -7L462 -7L448 -12L438 -22L433 -38L429 -42L426 -43L423 -42L419 -36L419 0L423 6L426 7L429 6L433 2L434 -3L436 -4L442 1L460 7L461 6L462 7L480 7L481 6L482 7L500 1L515 -13L517 -18L517 -42L509 -59L503 -65L488 -73L453 -84L443 -89L433 -99L433 -105L444 -115L456 -119L474 -119L488 -114L498 -104L503 -88L507 -84L510 -83L513 -84L517 -90L517 -126ZM291 -132L288 -129L287 -126L288 -123L294 -119L304 -119L305 -118L305 -8L291 -6L288 -3L287 0L288 3L294 7L390 7L393 6L397 0L397 -36L396 -39L390 -43L387 -42L383 -37L379 -10L377 -7L326 -7L325 -8L325 -58L326 -59L346 -59L347 -58L347 -42L351 -36L354 -35L357 -36L361 -42L361 -90L360 -93L354 -97L348 -93L346 -73L326 -73L325 -74L325 -118L326 -119L377 -119L379 -116L383 -89L387 -84L390 -83L393 -84L397 -90L397 -126L396 -129L390 -133L294 -133ZM159 -132L156 -129L155 -126L156 -123L162 -119L172 -119L173 -118L173 -8L159 -6L156 -3L155 0L156 3L162 7L222 7L223 6L224 7L242 1L259 -16L265 -28L271 -46L270 -47L271 -48L271 -78L270 -79L271 -80L265 -98L259 -110L242 -127L224 -133L223 -132L222 -133L162 -133ZM194 -119L221 -119L229 -115L241 -103L246 -93L251 -78L251 -48L246 -33L241 -23L229 -11L221 -7L194 -7L193 -8L193 -118ZM30 -133L25 -131L19 -125L17 -120L19 -115L25 -109L30 -107L35 -109L41 -115L43 -120L41 -125L35 -131ZM546 -157L543 -156L539 -150L541 -145L553 -133L564 -111L570 -93L575 -68L575 -40L570 -15L564 3L553 25L541 37L539 42L540 45L546 49L551 47L564 34L576 16L588 -8L595 -40L595 -68L588 -100L576 -124L564 -142L551 -155ZM132 -157L127 -155L114 -142L102 -124L90 -100L83 -68L83 -40L90 -8L102 16L114 34L127 47L132 49L135 48L139 42L137 37L125 25L114 3L108 -15L103 -40L103 -68L108 -93L114 -111L125 -133L137 -145L139 -150L138 -153Z" transform="translate(635.25 245.33) scale(0.11032 0.09645)" fill="#ff0000"/>
<path d="M9 -90L6 -87L5 -84L6 -81L12 -77L22 -77L23 -76L23 -8L9 -6L6 -3L5 0L6 3L12 7L54 7L57 6L60 3L61 0L60 -3L54 -7L44 -7L43 -8L43 -84L42 -87L36 -91ZM732 -115L728 -114L634 -61L630 -57L629 -54L630 -51L634 -47L728 6L732 7L735 6L739 0L738 -3L734 -7L650 -54L734 -101L738 -105L739 -108L738 -111ZM904 -127L895 -119L887 -102L888 -93L895 -85L900 -83L903 -84L911 -91L913 -96L911 -101L905 -107L905 -109L910 -114L924 -119L947 -119L955 -115L961 -109L965 -101L965 -91L960 -82L945 -72L910 -55L895 -41L887 -20L888 -19L887 -18L888 3L891 6L894 7L897 6L901 0L901 -9L903 -11L910 -11L938 6L942 7L969 6L977 -1L984 -14L985 -30L981 -36L978 -37L972 -33L971 -21L967 -17L959 -13L943 -13L917 -24L905 -25L904 -27L906 -32L917 -43L954 -58L976 -72L985 -90L984 -106L977 -119L971 -125L950 -133L949 -132L948 -133L924 -133L923 -132L922 -133ZM784 -127L775 -119L767 -102L768 -93L775 -85L780 -83L783 -84L791 -91L793 -96L791 -101L785 -107L785 -109L790 -114L804 -119L827 -119L835 -115L841 -109L845 -101L845 -91L840 -82L825 -72L790 -55L775 -41L767 -20L768 -19L767 -18L768 3L771 6L774 7L777 6L781 0L781 -9L783 -11L790 -11L818 6L822 7L849 6L857 -1L864 -14L865 -30L861 -36L858 -37L852 -33L851 -21L847 -17L839 -13L823 -13L797 -24L785 -25L784 -27L786 -32L797 -43L834 -58L856 -72L865 -90L864 -106L857 -119L851 -125L830 -133L829 -132L828 -133L804 -133L803 -132L802 -133ZM513 -132L510 -133L507 -132L503 -128L502 -123L500 -122L494 -127L476 -133L475 -132L474 -133L456 -133L455 -132L454 -133L436 -127L421 -113L419 -108L420 -92L427 -79L433 -73L448 -65L483 -54L493 -49L503 -39L503 -21L494 -12L480 -7L462 -7L448 -12L438 -22L433 -38L429 -42L426 -43L423 -42L419 -36L419 0L423 6L426 7L429 6L433 2L434 -3L436 -4L442 1L460 7L461 6L462 7L480 7L481 6L482 7L500 1L515 -13L517 -18L517 -42L509 -59L503 -65L488 -73L453 -84L443 -89L433 -99L433 -105L444 -115L456 -119L474 -119L488 -114L498 -104L503 -88L507 -84L510 -83L513 -84L517 -90L517 -126ZM291 -132L288 -129L287 -126L288 -123L294 -119L304 -119L305 -118L305 -8L291 -6L288 -3L287 0L288 3L294 7L390 7L393 6L397 0L397 -36L396 -39L390 -43L387 -42L383 -37L379 -10L377 -7L326 -7L325 -8L325 -58L326 -59L346 -59L347 -58L347 -42L351 -36L354 -35L357 -36L361 -42L361 -90L360 -93L354 -97L348 -93L346 -73L326 -73L325 -74L325 -118L326 -119L377 -119L379 -116L383 -89L387 -84L390 -83L393 -84L397 -90L397 -126L396 -129L390 -133L294 -133ZM159 -132L156 -129L155 -126L156 -123L162 -119L172 -119L173 -118L173 -8L159 -6L156 -3L155 0L156 3L162 7L222 7L223 6L224 7L242 1L259 -16L265 -28L271 -46L270 -47L271 -48L271 -78L270 -79L271 -80L265 -98L259 -110L242 -127L224 -133L223 -132L222 -133L162 -133ZM194 -119L221 -119L229 -115L241 -103L246 -93L251 -78L251 -48L246 -33L241 -23L229 -11L221 -7L194 -7L193 -8L193 -118ZM30 -133L25 -131L19 -125L17 -120L19 -115L25 -109L30 -107L35 -109L41 -115L43 -120L41 -125L35 -131ZM546 -157L543 -156L539 -150L541 -145L553 -133L564 -111L570 -93L575 -68L575 -40L570 -15L564 3L553 25L541 37L539 42L540 45L546 49L551 47L564 34L576 16L588 -8L595 -40L595 -68L588 -100L576 -124L564 -142L551 -155ZM132 -157L127 -155L114 -142L102 -124L90 -100L83 -68L83 -40L90 -8L102 16L114 34L127 47L132 49L135 48L139 42L137 37L125 25L114 3L108 -15L103 -40L103 -68L108 -93L114 -111L125 -133L137 -145L139 -150L138 -153Z" transform="translate(635.25 268.23) scale(0.10948 0.09645)" fill="#00ff00"/>
<path d="M9 -90L6 -87L5 -84L6 -81L12 -77L22 -77L23 -76L23 -8L9 -6L6 -3L5 0L6 3L12 7L54 7L57 6L60 3L61 0L60 -3L54 -7L44 -7L43 -8L43 -84L42 -87L36 -91ZM732 -115L728 -114L634 -61L630 -57L629 -54L630 -51L634 -47L728 6L732 7L735 6L739 0L738 -3L734 -7L650 -54L734 -101L738 -105L739 -108L738 -111ZM922 -133L904 -127L895 -119L888 -106L887 -102L888 -93L895 -85L900 -83L903 -84L911 -91L913 -96L911 -101L905 -107L905 -109L910 -114L924 -119L947 -119L953 -116L959 -107L959 -91L956 -85L947 -79L927 -78L923 -72L927 -66L947 -65L955 -61L960 -56L965 -42L965 -25L961 -17L955 -11L947 -7L924 -7L910 -12L905 -17L905 -19L911 -25L913 -30L911 -35L905 -41L900 -43L895 -41L889 -35L887 -30L887 -24L895 -7L904 1L922 7L923 6L924 7L948 7L949 6L950 7L971 -1L977 -7L984 -20L985 -24L984 -46L977 -59L966 -70L973 -76L978 -86L979 -108L973 -122L968 -127L950 -133L949 -132L948 -133L924 -133L923 -132ZM784 -127L775 -119L767 -102L768 -93L775 -85L780 -83L783 -84L791 -91L793 -96L791 -101L785 -107L785 -109L790 -114L804 -119L827 -119L835 -115L841 -109L845 -101L845 -91L840 -82L825 -72L790 -55L775 -41L767 -20L768 -19L767 -18L768 3L771 6L774 7L777 6L781 0L781 -9L783 -11L790 -11L818 6L822 7L849 6L857 -1L864 -14L865 -30L861 -36L858 -37L852 -33L851 -21L847 -17L839 -13L823 -13L797 -24L785 -25L784 -27L786 -32L797 -43L834 -58L856 -72L865 -90L864 -106L857 -119L851 -125L830 -133L829 -132L828 -133L804 -133L803 -132L802 -133ZM513 -132L510 -133L507 -132L503 -128L502 -123L500 -122L494 -127L476 -133L475 -132L474 -133L456 -133L455 -132L454 -133L436 -127L421 -113L419 -108L420 -92L427 -79L433 -73L448 -65L483 -54L493 -49L503 -39L503 -21L494 -12L480 -7L462 -7L448 -12L438 -22L433 -38L429 -42L426 -43L423 -42L419 -36L419 0L423 6L426 7L429 6L433 2L434 -3L436 -4L442 1L460 7L461 6L462 7L480 7L481 6L482 7L500 1L515 -13L517 -18L517 -42L509 -59L503 -65L488 -73L453 -84L443 -89L433 -99L433 -105L444 -115L456 -119L474 -119L488 -114L498 -104L503 -88L507 -84L510 -83L513 -84L517 -90L517 -126ZM291 -132L288 -129L287 -126L288 -123L294 -119L304 -119L305 -118L305 -8L291 -6L288 -3L287 0L288 3L294 7L390 7L393 6L397 0L397 -36L396 -39L390 -43L387 -42L383 -37L379 -10L377 -7L326 -7L325 -8L325 -58L326 -59L346 -59L347 -58L347 -42L351 -36L354 -35L357 -36L361 -42L361 -90L360 -93L354 -97L348 -93L346 -73L326 -73L325 -74L325 -118L326 -119L377 -119L379 -116L383 -89L387 -84L390 -83L393 -84L397 -90L397 -126L396 -129L390 -133L294 -133ZM159 -132L156 -129L155 -126L156 -123L162 -119L172 -119L173 -118L173 -8L159 -6L156 -3L155 0L156 3L162 7L222 7L223 6L224 7L242 1L259 -16L265 -28L271 -46L270 -47L271 -48L271 -78L270 -79L271 -80L265 -98L259 -110L242 -127L224 -133L223 -132L222 -133L162 -133ZM194 -119L221 -119L229 -115L241 -103L246 -93L251 -78L251 -48L246 -33L241 -23L229 -11L221 -7L194 -7L193 -8L193 -118ZM30 -133L25 -131L19 -125L17 -120L19 -115L25 -109L30 -107L35 -109L41 -115L43 -120L41 -125L35 -131ZM546 -157L543 -156L539 -150L541 -145L553 -133L564 -111L570 -93L575 -68L575 -40L570 -15L564 3L553 25L541 37L539 42L540 45L546 49L551 47L564 34L576 16L588 -8L595 -40L595 -68L588 -100L576 -124L564 -142L551 -155ZM132 -157L127 -155L114 -142L102 -124L90 -100L83 -68L83 -40L90 -8L102 16L114 34L127 47L132 49L135 48L139 42L137 37L125 25L114 3L108 -15L103 -40L103 -68L108 -93L114 -111L125 -133L137 -145L139 -150L138 -153Z" transform="translate(635.25 290.83) scale(0.10948 0.09645)" fill="#0000ff"/>
</svg>
</body></html>
